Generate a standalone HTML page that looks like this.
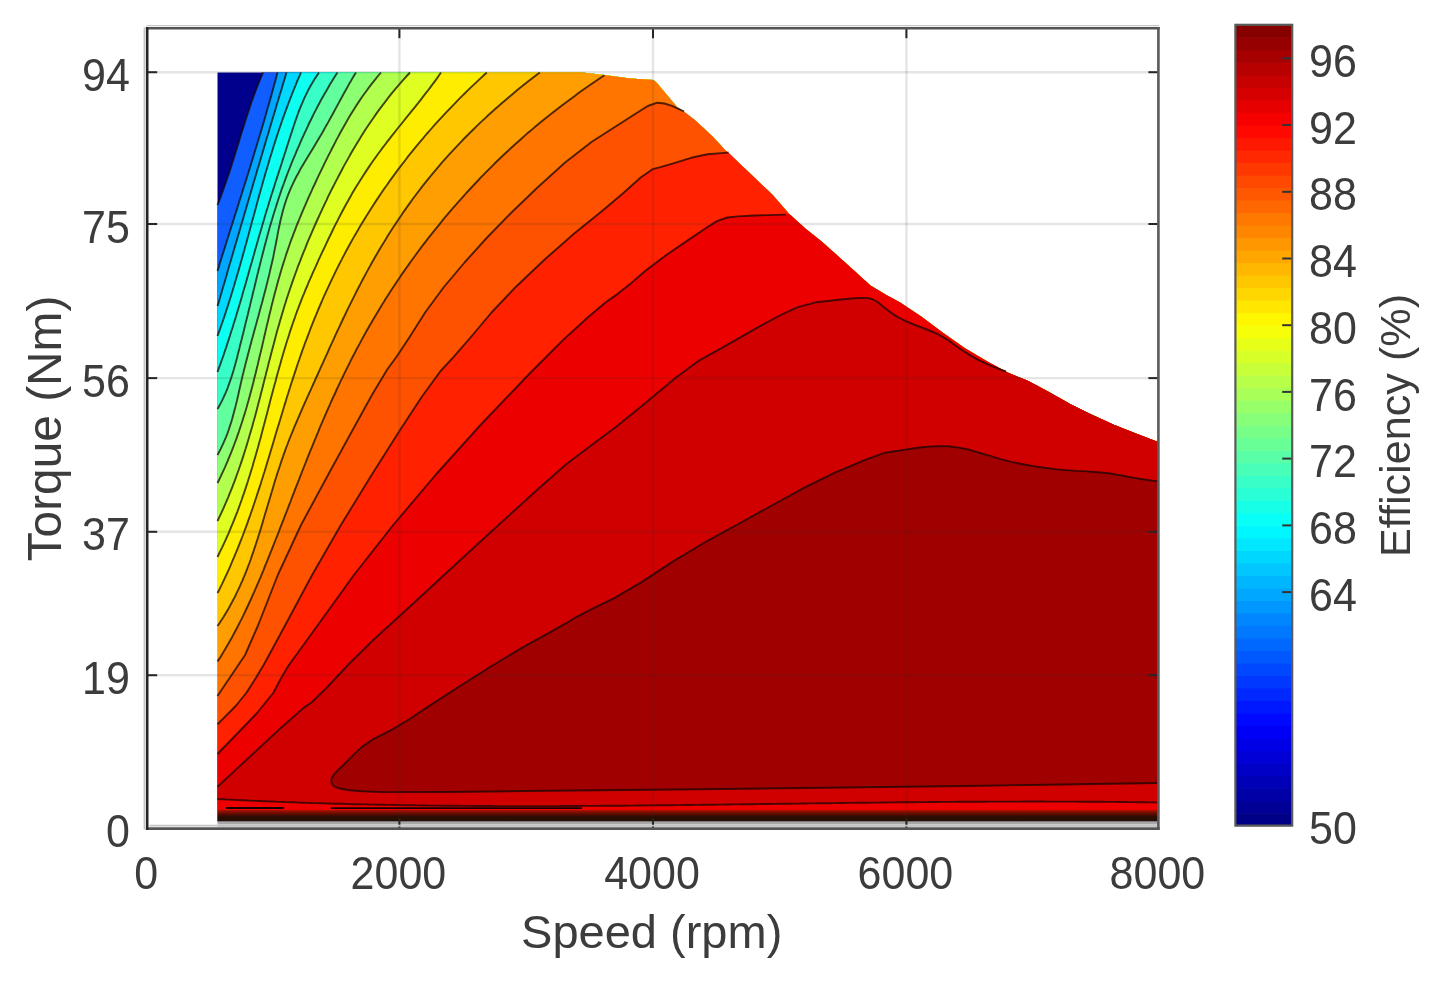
<!DOCTYPE html>
<html><head><meta charset="utf-8"><style>
html,body{margin:0;padding:0;background:#fff;width:1434px;height:982px;overflow:hidden}
svg{display:block;filter:blur(0.55px)}
text{font-family:"Liberation Sans",sans-serif;fill:#3c3c3c}
</style></head><body>
<svg width="1434" height="982" viewBox="0 0 1434 982">
<rect width="1434" height="982" fill="#fff"/>
<g id="data" shape-rendering="geometricPrecision">
<polygon points="217.5,821.5 217.5,72.5 582.0,72.5 604.0,75.0 630.0,78.5 653.0,80.0 656.0,82.0 677.0,107.0 694.7,120.0 712.0,136.0 728.3,153.6 740.0,164.1 756.3,179.6 772.6,195.0 788.9,213.8 805.2,228.4 821.5,241.5 837.8,256.1 854.1,270.8 870.3,285.5 886.6,295.2 900.0,302.5 921.4,316.7 942.8,332.8 964.1,347.7 985.5,360.6 1006.9,372.3 1028.3,381.0 1049.7,392.6 1071.0,404.4 1092.4,415.1 1113.8,424.7 1135.2,433.3 1158.0,442.0 1158.0,821.5" fill="#00008c"/>
<polygon points="263.0,72.5 261.7,75.6 260.4,78.7 259.2,81.7 257.9,84.8 256.7,87.9 255.6,91.0 254.4,94.1 253.3,97.2 252.2,100.2 251.1,103.3 250.1,106.4 249.1,109.5 248.0,112.6 247.0,115.6 246.0,118.7 245.0,121.8 244.1,124.9 243.1,128.0 242.1,131.0 241.2,134.1 240.2,137.2 239.3,140.3 238.4,143.4 237.4,146.5 236.5,149.5 235.5,152.6 234.6,155.7 233.6,158.8 232.6,161.9 231.7,164.9 230.7,168.0 229.7,171.1 228.7,174.2 227.6,177.3 226.6,180.3 225.5,183.4 224.4,186.5 223.3,189.6 222.2,192.7 221.1,195.8 219.9,198.8 218.7,201.9 217.5,205.0 217.5,810.5 217.5,810.5 1158.0,810.5 1158.0,442.0 1135.2,433.3 1113.8,424.7 1092.4,415.1 1071.0,404.4 1049.7,392.6 1028.3,381.0 1006.9,372.3 985.5,360.6 964.1,347.7 942.8,332.8 921.4,316.7 900.0,302.5 886.6,295.2 870.3,285.5 854.1,270.8 837.8,256.1 821.5,241.5 805.2,228.4 788.9,213.8 772.6,195.0 756.3,179.6 740.0,164.1 728.3,153.6 712.0,136.0 694.7,120.0 677.0,107.0 656.0,82.0 653.0,80.0 630.0,78.5 604.0,75.0 582.0,72.5" fill="#105eff"/>
<polygon points="277.5,72.5 276.7,75.6 275.9,78.6 275.1,81.7 274.2,84.7 273.4,87.8 272.6,90.8 271.7,93.9 270.9,96.9 270.0,100.0 269.2,103.0 268.3,106.1 267.4,109.1 266.5,112.2 265.7,115.3 264.8,118.3 263.9,121.4 263.0,124.4 262.1,127.5 261.2,130.5 260.3,133.6 259.4,136.6 258.4,139.7 257.5,142.7 256.6,145.8 255.7,148.8 254.7,151.9 253.8,155.0 252.9,158.0 251.9,161.1 251.0,164.1 250.1,167.2 249.1,170.2 248.2,173.3 247.2,176.3 246.3,179.4 245.3,182.4 244.3,185.5 243.4,188.5 242.4,191.6 241.5,194.7 240.5,197.7 239.5,200.8 238.6,203.8 237.6,206.9 236.7,209.9 235.7,213.0 234.7,216.0 233.8,219.1 232.8,222.1 231.8,225.2 230.9,228.2 229.9,231.3 228.9,234.4 228.0,237.4 227.0,240.5 226.1,243.5 225.1,246.6 224.2,249.6 223.2,252.7 222.2,255.7 221.3,258.8 220.3,261.8 219.4,264.9 218.5,267.9 217.5,271.0 217.5,810.5 217.5,810.5 1158.0,810.5 1158.0,442.0 1135.2,433.3 1113.8,424.7 1092.4,415.1 1071.0,404.4 1049.7,392.6 1028.3,381.0 1006.9,372.3 985.5,360.6 964.1,347.7 942.8,332.8 921.4,316.7 900.0,302.5 886.6,295.2 870.3,285.5 854.1,270.8 837.8,256.1 821.5,241.5 805.2,228.4 788.9,213.8 772.6,195.0 756.3,179.6 740.0,164.1 728.3,153.6 712.0,136.0 694.7,120.0 677.0,107.0 656.0,82.0 653.0,80.0 630.0,78.5 604.0,75.0 582.0,72.5" fill="#00a6ff"/>
<polygon points="286.5,72.5 285.6,75.6 284.7,78.6 283.7,81.7 282.8,84.8 281.9,87.9 281.0,90.9 280.0,94.0 279.1,97.1 278.2,100.2 277.2,103.2 276.3,106.3 275.4,109.4 274.5,112.4 273.6,115.5 272.6,118.6 271.7,121.7 270.8,124.7 269.9,127.8 269.0,130.9 268.1,133.9 267.1,137.0 266.2,140.1 265.3,143.2 264.4,146.2 263.5,149.3 262.6,152.4 261.7,155.5 260.8,158.5 259.9,161.6 259.0,164.7 258.0,167.7 257.1,170.8 256.2,173.9 255.3,177.0 254.4,180.0 253.5,183.1 252.6,186.2 251.7,189.2 250.8,192.3 249.9,195.4 249.0,198.5 248.1,201.5 247.2,204.6 246.3,207.7 245.4,210.8 244.5,213.8 243.6,216.9 242.7,220.0 241.8,223.0 240.9,226.1 240.0,229.2 239.1,232.3 238.2,235.3 237.3,238.4 236.4,241.5 235.5,244.6 234.6,247.6 233.7,250.7 232.8,253.8 231.9,256.8 231.0,259.9 230.1,263.0 229.2,266.1 228.3,269.1 227.4,272.2 226.6,275.3 225.7,278.3 224.8,281.4 223.9,284.5 223.0,287.6 222.1,290.6 221.2,293.7 220.3,296.8 219.4,299.9 218.5,302.9 217.5,306.0 217.5,810.5 217.5,810.5 1158.0,810.5 1158.0,442.0 1135.2,433.3 1113.8,424.7 1092.4,415.1 1071.0,404.4 1049.7,392.6 1028.3,381.0 1006.9,372.3 985.5,360.6 964.1,347.7 942.8,332.8 921.4,316.7 900.0,302.5 886.6,295.2 870.3,285.5 854.1,270.8 837.8,256.1 821.5,241.5 805.2,228.4 788.9,213.8 772.6,195.0 756.3,179.6 740.0,164.1 728.3,153.6 712.0,136.0 694.7,120.0 677.0,107.0 656.0,82.0 653.0,80.0 630.0,78.5 604.0,75.0 582.0,72.5" fill="#00d9ff"/>
<polygon points="301.0,72.5 299.7,75.6 298.3,78.6 297.0,81.7 295.8,84.8 294.5,87.8 293.3,90.9 292.1,93.9 290.9,97.0 289.7,100.1 288.5,103.1 287.4,106.2 286.2,109.3 285.1,112.3 284.0,115.4 282.9,118.5 281.8,121.5 280.8,124.6 279.7,127.7 278.7,130.7 277.7,133.8 276.7,136.8 275.7,139.9 274.7,143.0 273.7,146.0 272.8,149.1 271.8,152.2 270.9,155.2 269.9,158.3 269.0,161.4 268.1,164.4 267.2,167.5 266.3,170.5 265.4,173.6 264.5,176.7 263.6,179.7 262.8,182.8 261.9,185.9 261.0,188.9 260.2,192.0 259.3,195.1 258.5,198.1 257.6,201.2 256.8,204.2 256.0,207.3 255.1,210.4 254.3,213.4 253.5,216.5 252.6,219.6 251.8,222.6 251.0,225.7 250.1,228.8 249.3,231.8 248.5,234.9 247.6,238.0 246.8,241.0 246.0,244.1 245.1,247.1 244.3,250.2 243.4,253.3 242.6,256.3 241.7,259.4 240.8,262.5 240.0,265.5 239.1,268.6 238.2,271.7 237.3,274.7 236.4,277.8 235.5,280.8 234.6,283.9 233.7,287.0 232.8,290.0 231.8,293.1 230.9,296.2 229.9,299.2 229.0,302.3 228.0,305.4 227.0,308.4 226.0,311.5 225.0,314.6 224.0,317.6 222.9,320.7 221.9,323.7 220.8,326.8 219.7,329.9 218.6,332.9 217.5,336.0 217.5,810.5 217.5,810.5 1158.0,810.5 1158.0,442.0 1135.2,433.3 1113.8,424.7 1092.4,415.1 1071.0,404.4 1049.7,392.6 1028.3,381.0 1006.9,372.3 985.5,360.6 964.1,347.7 942.8,332.8 921.4,316.7 900.0,302.5 886.6,295.2 870.3,285.5 854.1,270.8 837.8,256.1 821.5,241.5 805.2,228.4 788.9,213.8 772.6,195.0 756.3,179.6 740.0,164.1 728.3,153.6 712.0,136.0 694.7,120.0 677.0,107.0 656.0,82.0 653.0,80.0 630.0,78.5 604.0,75.0 582.0,72.5" fill="#0dfff2"/>
<polygon points="319.0,72.5 316.9,75.6 314.9,78.6 313.0,81.7 311.2,84.7 309.5,87.8 307.9,90.8 306.4,93.9 304.9,96.9 303.5,100.0 302.2,103.1 300.9,106.1 299.7,109.2 298.5,112.2 297.4,115.3 296.3,118.3 295.2,121.4 294.2,124.5 293.2,127.5 292.2,130.6 291.2,133.6 290.2,136.7 289.2,139.7 288.2,142.8 287.3,145.8 286.3,148.9 285.3,152.0 284.3,155.0 283.3,158.1 282.4,161.1 281.4,164.2 280.4,167.2 279.4,170.3 278.4,173.4 277.4,176.4 276.4,179.5 275.4,182.5 274.5,185.6 273.5,188.6 272.5,191.7 271.5,194.7 270.6,197.8 269.6,200.9 268.7,203.9 267.8,207.0 266.8,210.0 265.9,213.1 265.0,216.1 264.1,219.2 263.2,222.2 262.3,225.3 261.4,228.4 260.5,231.4 259.6,234.5 258.7,237.5 257.9,240.6 257.0,243.6 256.1,246.7 255.2,249.8 254.4,252.8 253.5,255.9 252.6,258.9 251.8,262.0 250.9,265.0 250.0,268.1 249.2,271.1 248.3,274.2 247.4,277.3 246.6,280.3 245.7,283.4 244.8,286.4 243.9,289.5 243.0,292.5 242.2,295.6 241.3,298.7 240.4,301.7 239.5,304.8 238.6,307.8 237.6,310.9 236.7,313.9 235.8,317.0 234.9,320.0 233.9,323.1 233.0,326.2 232.0,329.2 231.0,332.3 230.1,335.3 229.1,338.4 228.1,341.4 227.1,344.5 226.1,347.6 225.0,350.6 224.0,353.7 223.0,356.7 221.9,359.8 220.8,362.8 219.7,365.9 218.6,368.9 217.5,372.0 217.5,810.5 217.5,810.5 1158.0,810.5 1158.0,442.0 1135.2,433.3 1113.8,424.7 1092.4,415.1 1071.0,404.4 1049.7,392.6 1028.3,381.0 1006.9,372.3 985.5,360.6 964.1,347.7 942.8,332.8 921.4,316.7 900.0,302.5 886.6,295.2 870.3,285.5 854.1,270.8 837.8,256.1 821.5,241.5 805.2,228.4 788.9,213.8 772.6,195.0 756.3,179.6 740.0,164.1 728.3,153.6 712.0,136.0 694.7,120.0 677.0,107.0 656.0,82.0 653.0,80.0 630.0,78.5 604.0,75.0 582.0,72.5" fill="#38ffc7"/>
<polygon points="337.5,72.5 335.5,75.5 333.6,78.6 331.8,81.6 329.9,84.6 328.1,87.7 326.4,90.7 324.6,93.7 322.9,96.8 321.2,99.8 319.6,102.8 318.0,105.8 316.4,108.9 314.8,111.9 313.3,114.9 311.8,118.0 310.3,121.0 308.8,124.0 307.4,127.1 306.0,130.1 304.6,133.1 303.2,136.2 301.8,139.2 300.5,142.2 299.2,145.3 297.8,148.3 296.5,151.3 295.3,154.4 294.0,157.4 292.7,160.4 291.5,163.4 290.3,166.5 289.1,169.5 287.9,172.5 286.7,175.6 285.6,178.6 284.5,181.6 283.4,184.7 282.3,187.7 281.2,190.7 280.2,193.8 279.2,196.8 278.2,199.8 277.2,202.9 276.2,205.9 275.3,208.9 274.3,212.0 273.4,215.0 272.5,218.0 271.6,221.0 270.7,224.1 269.8,227.1 269.0,230.1 268.1,233.2 267.3,236.2 266.5,239.2 265.7,242.3 264.9,245.3 264.1,248.3 263.3,251.4 262.5,254.4 261.7,257.4 261.0,260.5 260.2,263.5 259.5,266.5 258.7,269.5 258.0,272.6 257.2,275.6 256.5,278.6 255.7,281.7 255.0,284.7 254.3,287.7 253.5,290.8 252.8,293.8 252.1,296.8 251.3,299.9 250.6,302.9 249.9,305.9 249.1,309.0 248.4,312.0 247.7,315.0 246.9,318.1 246.2,321.1 245.4,324.1 244.7,327.1 243.9,330.2 243.2,333.2 242.4,336.2 241.7,339.3 240.9,342.3 240.1,345.3 239.4,348.4 238.6,351.4 237.8,354.4 237.1,357.5 236.3,360.5 235.5,363.5 234.6,366.6 233.8,369.6 232.9,372.6 231.9,375.7 230.9,378.7 229.9,381.7 228.8,384.7 227.7,387.8 226.5,390.8 225.2,393.8 223.8,396.9 222.4,399.9 220.9,402.9 219.2,406.0 217.5,409.0 217.5,810.5 217.5,810.5 1158.0,810.5 1158.0,442.0 1135.2,433.3 1113.8,424.7 1092.4,415.1 1071.0,404.4 1049.7,392.6 1028.3,381.0 1006.9,372.3 985.5,360.6 964.1,347.7 942.8,332.8 921.4,316.7 900.0,302.5 886.6,295.2 870.3,285.5 854.1,270.8 837.8,256.1 821.5,241.5 805.2,228.4 788.9,213.8 772.6,195.0 756.3,179.6 740.0,164.1 728.3,153.6 712.0,136.0 694.7,120.0 677.0,107.0 656.0,82.0 653.0,80.0 630.0,78.5 604.0,75.0 582.0,72.5" fill="#61ff9e"/>
<polygon points="356.0,72.5 354.1,75.5 352.3,78.6 350.6,81.6 348.8,84.6 347.1,87.7 345.4,90.7 343.7,93.8 342.1,96.8 340.4,99.8 338.8,102.9 337.1,105.9 335.5,108.9 333.8,112.0 332.2,115.0 330.5,118.0 328.8,121.1 327.2,124.1 325.4,127.1 323.7,130.2 322.0,133.2 320.2,136.2 318.4,139.3 316.6,142.3 314.7,145.4 312.9,148.4 311.1,151.4 309.2,154.5 307.4,157.5 305.6,160.5 303.8,163.6 302.0,166.6 300.2,169.6 298.6,172.7 296.9,175.7 295.3,178.8 293.8,181.8 292.4,184.8 291.0,187.9 289.7,190.9 288.5,193.9 287.3,197.0 286.2,200.0 285.2,203.0 284.3,206.1 283.4,209.1 282.6,212.1 281.8,215.2 281.0,218.2 280.3,221.2 279.7,224.3 279.0,227.3 278.4,230.4 277.8,233.4 277.3,236.4 276.7,239.5 276.1,242.5 275.5,245.5 274.9,248.6 274.3,251.6 273.7,254.6 273.1,257.7 272.4,260.7 271.7,263.8 271.0,266.8 270.3,269.8 269.6,272.9 268.9,275.9 268.1,278.9 267.4,282.0 266.6,285.0 265.9,288.0 265.1,291.1 264.3,294.1 263.5,297.1 262.7,300.2 261.9,303.2 261.0,306.2 260.2,309.3 259.4,312.3 258.6,315.4 257.7,318.4 256.9,321.4 256.1,324.5 255.2,327.5 254.4,330.5 253.6,333.6 252.8,336.6 251.9,339.6 251.1,342.7 250.3,345.7 249.5,348.8 248.7,351.8 247.9,354.8 247.1,357.9 246.3,360.9 245.5,363.9 244.8,367.0 244.0,370.0 243.3,373.0 242.5,376.1 241.8,379.1 241.1,382.1 240.4,385.2 239.7,388.2 239.0,391.2 238.4,394.3 237.7,397.3 237.0,400.4 236.2,403.4 235.5,406.4 234.7,409.5 233.9,412.5 233.1,415.5 232.3,418.6 231.4,421.6 230.4,424.6 229.4,427.7 228.4,430.7 227.3,433.8 226.1,436.8 224.8,439.8 223.5,442.9 222.1,445.9 220.7,448.9 219.1,452.0 217.5,455.0 217.5,810.5 217.5,810.5 1158.0,810.5 1158.0,442.0 1135.2,433.3 1113.8,424.7 1092.4,415.1 1071.0,404.4 1049.7,392.6 1028.3,381.0 1006.9,372.3 985.5,360.6 964.1,347.7 942.8,332.8 921.4,316.7 900.0,302.5 886.6,295.2 870.3,285.5 854.1,270.8 837.8,256.1 821.5,241.5 805.2,228.4 788.9,213.8 772.6,195.0 756.3,179.6 740.0,164.1 728.3,153.6 712.0,136.0 694.7,120.0 677.0,107.0 656.0,82.0 653.0,80.0 630.0,78.5 604.0,75.0 582.0,72.5" fill="#8cff73"/>
<polygon points="381.0,72.5 378.4,75.5 375.9,78.6 373.5,81.6 371.1,84.7 368.8,87.7 366.6,90.7 364.4,93.8 362.2,96.8 360.1,99.9 358.1,102.9 356.1,105.9 354.2,109.0 352.3,112.0 350.4,115.1 348.6,118.1 346.8,121.2 345.1,124.2 343.4,127.2 341.7,130.3 340.0,133.3 338.4,136.4 336.7,139.4 335.2,142.4 333.6,145.5 332.0,148.5 330.5,151.6 328.9,154.6 327.4,157.6 325.9,160.7 324.4,163.7 322.9,166.8 321.4,169.8 320.0,172.8 318.5,175.9 317.1,178.9 315.7,182.0 314.3,185.0 312.8,188.0 311.5,191.1 310.1,194.1 308.7,197.2 307.4,200.2 306.0,203.3 304.7,206.3 303.4,209.3 302.1,212.4 300.9,215.4 299.6,218.5 298.4,221.5 297.1,224.5 295.9,227.6 294.8,230.6 293.6,233.7 292.5,236.7 291.3,239.7 290.2,242.8 289.2,245.8 288.1,248.9 287.1,251.9 286.0,254.9 285.1,258.0 284.1,261.0 283.1,264.1 282.2,267.1 281.3,270.1 280.4,273.2 279.5,276.2 278.6,279.3 277.8,282.3 276.9,285.4 276.1,288.4 275.3,291.4 274.5,294.5 273.7,297.5 272.9,300.6 272.2,303.6 271.4,306.6 270.7,309.7 269.9,312.7 269.2,315.8 268.5,318.8 267.8,321.8 267.0,324.9 266.3,327.9 265.6,331.0 264.9,334.0 264.2,337.0 263.5,340.1 262.8,343.1 262.1,346.2 261.4,349.2 260.7,352.2 259.9,355.3 259.2,358.3 258.5,361.4 257.8,364.4 257.0,367.5 256.3,370.5 255.6,373.5 254.8,376.6 254.0,379.6 253.3,382.7 252.5,385.7 251.7,388.7 250.9,391.8 250.1,394.8 249.2,397.9 248.4,400.9 247.5,403.9 246.7,407.0 245.8,410.0 244.9,413.1 243.9,416.1 243.0,419.1 242.0,422.2 241.0,425.2 240.0,428.3 239.0,431.3 237.9,434.3 236.9,437.4 235.8,440.4 234.6,443.5 233.5,446.5 232.3,449.6 231.1,452.6 229.9,455.6 228.6,458.7 227.4,461.7 226.0,464.8 224.7,467.8 223.3,470.8 221.9,473.9 220.5,476.9 219.0,480.0 217.5,483.0 217.5,810.5 217.5,810.5 1158.0,810.5 1158.0,442.0 1135.2,433.3 1113.8,424.7 1092.4,415.1 1071.0,404.4 1049.7,392.6 1028.3,381.0 1006.9,372.3 985.5,360.6 964.1,347.7 942.8,332.8 921.4,316.7 900.0,302.5 886.6,295.2 870.3,285.5 854.1,270.8 837.8,256.1 821.5,241.5 805.2,228.4 788.9,213.8 772.6,195.0 756.3,179.6 740.0,164.1 728.3,153.6 712.0,136.0 694.7,120.0 677.0,107.0 656.0,82.0 653.0,80.0 630.0,78.5 604.0,75.0 582.0,72.5" fill="#b3ff4d"/>
<polygon points="410.0,72.5 407.2,75.5 404.4,78.6 401.7,81.6 399.1,84.6 396.5,87.7 394.0,90.7 391.5,93.7 389.1,96.7 386.7,99.8 384.4,102.8 382.1,105.8 379.8,108.9 377.6,111.9 375.5,114.9 373.4,118.0 371.3,121.0 369.2,124.0 367.2,127.0 365.2,130.1 363.3,133.1 361.4,136.1 359.5,139.2 357.6,142.2 355.8,145.2 354.0,148.3 352.2,151.3 350.5,154.3 348.8,157.4 347.1,160.4 345.4,163.4 343.7,166.4 342.1,169.5 340.5,172.5 338.9,175.5 337.3,178.6 335.7,181.6 334.2,184.6 332.6,187.7 331.1,190.7 329.6,193.7 328.1,196.7 326.7,199.8 325.2,202.8 323.8,205.8 322.4,208.9 321.0,211.9 319.6,214.9 318.2,218.0 316.8,221.0 315.5,224.0 314.1,227.1 312.8,230.1 311.5,233.1 310.2,236.1 308.9,239.2 307.6,242.2 306.4,245.2 305.2,248.3 303.9,251.3 302.7,254.3 301.5,257.4 300.4,260.4 299.2,263.4 298.0,266.4 296.9,269.5 295.8,272.5 294.7,275.5 293.6,278.6 292.5,281.6 291.5,284.6 290.4,287.7 289.4,290.7 288.4,293.7 287.4,296.8 286.4,299.8 285.5,302.8 284.5,305.8 283.6,308.9 282.7,311.9 281.8,314.9 280.9,318.0 280.0,321.0 279.2,324.0 278.3,327.1 277.4,330.1 276.6,333.1 275.8,336.1 275.0,339.2 274.2,342.2 273.4,345.2 272.6,348.3 271.8,351.3 271.0,354.3 270.2,357.4 269.4,360.4 268.6,363.4 267.9,366.4 267.1,369.5 266.3,372.5 265.6,375.5 264.8,378.6 264.0,381.6 263.3,384.6 262.5,387.7 261.7,390.7 260.9,393.7 260.2,396.8 259.4,399.8 258.6,402.8 257.8,405.8 257.0,408.9 256.2,411.9 255.4,414.9 254.6,418.0 253.7,421.0 252.9,424.0 252.1,427.1 251.2,430.1 250.3,433.1 249.4,436.1 248.5,439.2 247.6,442.2 246.7,445.2 245.8,448.3 244.8,451.3 243.9,454.3 242.9,457.4 241.9,460.4 240.9,463.4 239.8,466.5 238.8,469.5 237.7,472.5 236.6,475.5 235.5,478.6 234.4,481.6 233.2,484.6 232.1,487.7 230.9,490.7 229.6,493.7 228.4,496.8 227.1,499.8 225.8,502.8 224.5,505.8 223.2,508.9 221.8,511.9 220.4,514.9 218.9,518.0 217.5,521.0 217.5,810.5 217.5,810.5 1158.0,810.5 1158.0,442.0 1135.2,433.3 1113.8,424.7 1092.4,415.1 1071.0,404.4 1049.7,392.6 1028.3,381.0 1006.9,372.3 985.5,360.6 964.1,347.7 942.8,332.8 921.4,316.7 900.0,302.5 886.6,295.2 870.3,285.5 854.1,270.8 837.8,256.1 821.5,241.5 805.2,228.4 788.9,213.8 772.6,195.0 756.3,179.6 740.0,164.1 728.3,153.6 712.0,136.0 694.7,120.0 677.0,107.0 656.0,82.0 653.0,80.0 630.0,78.5 604.0,75.0 582.0,72.5" fill="#deff21"/>
<polygon points="441.0,72.5 438.9,75.5 436.8,78.6 434.6,81.6 432.3,84.6 430.1,87.6 427.8,90.7 425.4,93.7 423.1,96.7 420.7,99.8 418.3,102.8 415.9,105.8 413.5,108.8 411.0,111.9 408.6,114.9 406.1,117.9 403.7,121.0 401.3,124.0 398.8,127.0 396.4,130.0 394.0,133.1 391.6,136.1 389.3,139.1 386.9,142.1 384.6,145.2 382.3,148.2 380.1,151.2 377.8,154.3 375.7,157.3 373.5,160.3 371.4,163.3 369.3,166.4 367.3,169.4 365.3,172.4 363.3,175.5 361.4,178.5 359.5,181.5 357.6,184.5 355.7,187.6 353.9,190.6 352.1,193.6 350.4,196.7 348.7,199.7 347.0,202.7 345.3,205.7 343.7,208.8 342.1,211.8 340.5,214.8 338.9,217.9 337.4,220.9 335.8,223.9 334.3,226.9 332.8,230.0 331.4,233.0 329.9,236.0 328.4,239.0 327.0,242.1 325.6,245.1 324.2,248.1 322.7,251.2 321.3,254.2 319.9,257.2 318.5,260.2 317.1,263.3 315.8,266.3 314.4,269.3 313.0,272.4 311.7,275.4 310.4,278.4 309.0,281.4 307.8,284.5 306.5,287.5 305.2,290.5 304.0,293.6 302.7,296.6 301.5,299.6 300.4,302.6 299.2,305.7 298.1,308.7 296.9,311.7 295.8,314.8 294.8,317.8 293.7,320.8 292.7,323.8 291.6,326.9 290.6,329.9 289.6,332.9 288.7,335.9 287.7,339.0 286.7,342.0 285.8,345.0 284.9,348.1 284.0,351.1 283.1,354.1 282.2,357.1 281.3,360.2 280.5,363.2 279.6,366.2 278.8,369.3 277.9,372.3 277.1,375.3 276.3,378.3 275.5,381.4 274.6,384.4 273.8,387.4 273.0,390.5 272.2,393.5 271.4,396.5 270.6,399.5 269.8,402.6 269.1,405.6 268.3,408.6 267.5,411.7 266.7,414.7 265.9,417.7 265.1,420.7 264.3,423.8 263.5,426.8 262.7,429.8 261.9,432.8 261.1,435.9 260.3,438.9 259.4,441.9 258.6,445.0 257.8,448.0 256.9,451.0 256.1,454.0 255.2,457.1 254.3,460.1 253.4,463.1 252.6,466.2 251.6,469.2 250.7,472.2 249.8,475.2 248.8,478.3 247.9,481.3 246.9,484.3 245.9,487.4 244.9,490.4 243.9,493.4 242.8,496.4 241.8,499.5 240.7,502.5 239.6,505.5 238.5,508.6 237.4,511.6 236.2,514.6 235.0,517.6 233.8,520.7 232.6,523.7 231.3,526.7 230.1,529.7 228.8,532.8 227.4,535.8 226.1,538.8 224.7,541.9 223.3,544.9 221.9,547.9 220.4,550.9 218.9,554.0 217.5,557.0 217.5,810.5 217.5,810.5 1158.0,810.5 1158.0,442.0 1135.2,433.3 1113.8,424.7 1092.4,415.1 1071.0,404.4 1049.7,392.6 1028.3,381.0 1006.9,372.3 985.5,360.6 964.1,347.7 942.8,332.8 921.4,316.7 900.0,302.5 886.6,295.2 870.3,285.5 854.1,270.8 837.8,256.1 821.5,241.5 805.2,228.4 788.9,213.8 772.6,195.0 756.3,179.6 740.0,164.1 728.3,153.6 712.0,136.0 694.7,120.0 677.0,107.0 656.0,82.0 653.0,80.0 630.0,78.5 604.0,75.0 582.0,72.5" fill="#ffed00"/>
<polygon points="486.8,72.5 483.5,75.5 480.2,78.6 477.0,81.6 473.8,84.6 470.6,87.6 467.5,90.7 464.4,93.7 461.4,96.7 458.4,99.7 455.4,102.8 452.5,105.8 449.6,108.8 446.7,111.8 443.9,114.9 441.1,117.9 438.3,120.9 435.5,123.9 432.8,127.0 430.2,130.0 427.5,133.0 424.9,136.0 422.4,139.1 419.8,142.1 417.3,145.1 414.8,148.2 412.4,151.2 409.9,154.2 407.5,157.2 405.2,160.3 402.8,163.3 400.5,166.3 398.2,169.3 396.0,172.4 393.8,175.4 391.6,178.4 389.4,181.4 387.3,184.5 385.1,187.5 383.0,190.5 381.0,193.5 378.9,196.6 376.9,199.6 374.9,202.6 372.9,205.7 371.0,208.7 369.1,211.7 367.2,214.7 365.3,217.8 363.5,220.8 361.6,223.8 359.8,226.8 358.0,229.9 356.3,232.9 354.5,235.9 352.8,238.9 351.1,242.0 349.4,245.0 347.8,248.0 346.1,251.0 344.5,254.1 342.9,257.1 341.4,260.1 339.8,263.1 338.3,266.2 336.8,269.2 335.3,272.2 333.8,275.3 332.3,278.3 330.9,281.3 329.5,284.3 328.1,287.4 326.7,290.4 325.3,293.4 323.9,296.4 322.6,299.5 321.3,302.5 320.0,305.5 318.7,308.5 317.4,311.6 316.2,314.6 314.9,317.6 313.7,320.6 312.5,323.7 311.3,326.7 310.1,329.7 309.0,332.8 307.8,335.8 306.7,338.8 305.5,341.8 304.4,344.9 303.3,347.9 302.2,350.9 301.2,353.9 300.1,357.0 299.1,360.0 298.0,363.0 297.0,366.0 296.0,369.1 295.0,372.1 294.0,375.1 293.0,378.1 292.0,381.2 291.0,384.2 290.1,387.2 289.1,390.2 288.2,393.3 287.2,396.3 286.3,399.3 285.4,402.4 284.4,405.4 283.5,408.4 282.6,411.4 281.7,414.5 280.8,417.5 279.9,420.5 279.0,423.5 278.0,426.6 277.1,429.6 276.2,432.6 275.3,435.6 274.4,438.7 273.5,441.7 272.6,444.7 271.7,447.7 270.8,450.8 269.9,453.8 269.0,456.8 268.1,459.8 267.1,462.9 266.2,465.9 265.3,468.9 264.4,472.0 263.4,475.0 262.5,478.0 261.5,481.0 260.6,484.1 259.6,487.1 258.6,490.1 257.6,493.1 256.6,496.2 255.6,499.2 254.6,502.2 253.6,505.2 252.6,508.3 251.5,511.3 250.5,514.3 249.4,517.3 248.3,520.4 247.3,523.4 246.2,526.4 245.0,529.5 243.9,532.5 242.8,535.5 241.6,538.5 240.4,541.6 239.2,544.6 238.0,547.6 236.8,550.6 235.5,553.7 234.3,556.7 233.0,559.7 231.7,562.7 230.4,565.8 229.1,568.8 227.7,571.8 226.3,574.8 224.9,577.9 223.5,580.9 222.1,583.9 220.6,586.9 219.1,590.0 217.5,593.0 217.5,810.5 217.5,810.5 1158.0,810.5 1158.0,442.0 1135.2,433.3 1113.8,424.7 1092.4,415.1 1071.0,404.4 1049.7,392.6 1028.3,381.0 1006.9,372.3 985.5,360.6 964.1,347.7 942.8,332.8 921.4,316.7 900.0,302.5 886.6,295.2 870.3,285.5 854.1,270.8 837.8,256.1 821.5,241.5 805.2,228.4 788.9,213.8 772.6,195.0 756.3,179.6 740.0,164.1 728.3,153.6 712.0,136.0 694.7,120.0 677.0,107.0 656.0,82.0 653.0,80.0 630.0,78.5 604.0,75.0 582.0,72.5" fill="#ffc700"/>
<polygon points="539.8,72.5 535.8,75.5 531.9,78.5 528.0,81.6 524.2,84.6 520.4,87.6 516.7,90.6 513.0,93.7 509.4,96.7 505.9,99.7 502.3,102.7 498.9,105.8 495.4,108.8 492.1,111.8 488.7,114.8 485.5,117.9 482.2,120.9 479.0,123.9 475.9,126.9 472.8,130.0 469.7,133.0 466.7,136.0 463.7,139.0 460.8,142.1 457.9,145.1 455.1,148.1 452.3,151.1 449.5,154.2 446.8,157.2 444.1,160.2 441.4,163.2 438.8,166.3 436.2,169.3 433.7,172.3 431.2,175.3 428.7,178.4 426.3,181.4 423.9,184.4 421.5,187.4 419.2,190.5 416.9,193.5 414.6,196.5 412.4,199.5 410.2,202.6 408.0,205.6 405.9,208.6 403.7,211.6 401.7,214.7 399.6,217.7 397.6,220.7 395.6,223.7 393.6,226.8 391.6,229.8 389.7,232.8 387.8,235.8 385.9,238.9 384.1,241.9 382.2,244.9 380.4,247.9 378.6,251.0 376.9,254.0 375.1,257.0 373.4,260.0 371.7,263.0 370.0,266.1 368.3,269.1 366.7,272.1 365.1,275.1 363.4,278.2 361.8,281.2 360.3,284.2 358.7,287.2 357.1,290.3 355.6,293.3 354.1,296.3 352.6,299.3 351.1,302.4 349.6,305.4 348.1,308.4 346.6,311.4 345.2,314.5 343.7,317.5 342.3,320.5 340.9,323.5 339.5,326.6 338.0,329.6 336.6,332.6 335.2,335.6 333.9,338.7 332.5,341.7 331.1,344.7 329.7,347.7 328.3,350.8 327.0,353.8 325.6,356.8 324.2,359.8 322.9,362.9 321.5,365.9 320.1,368.9 318.8,371.9 317.4,375.0 316.0,378.0 314.7,381.0 313.3,384.0 311.9,387.1 310.6,390.1 309.2,393.1 307.8,396.1 306.5,399.2 305.1,402.2 303.8,405.2 302.5,408.2 301.1,411.3 299.8,414.3 298.5,417.3 297.2,420.3 295.9,423.4 294.6,426.4 293.4,429.4 292.2,432.4 290.9,435.5 289.7,438.5 288.5,441.5 287.4,444.5 286.2,447.5 285.1,450.6 284.0,453.6 283.0,456.6 281.9,459.6 280.9,462.7 279.9,465.7 278.9,468.7 277.9,471.7 276.9,474.8 276.0,477.8 275.0,480.8 274.1,483.8 273.2,486.9 272.3,489.9 271.4,492.9 270.5,495.9 269.6,499.0 268.7,502.0 267.8,505.0 266.9,508.0 266.0,511.1 265.1,514.1 264.2,517.1 263.3,520.1 262.4,523.2 261.5,526.2 260.6,529.2 259.7,532.2 258.7,535.3 257.8,538.3 256.8,541.3 255.8,544.3 254.8,547.4 253.8,550.4 252.8,553.4 251.7,556.4 250.7,559.5 249.6,562.5 248.4,565.5 247.3,568.5 246.1,571.6 244.9,574.6 243.6,577.6 242.4,580.6 241.0,583.7 239.7,586.7 238.3,589.7 236.8,592.7 235.3,595.8 233.8,598.8 232.2,601.8 230.6,604.8 228.9,607.9 227.1,610.9 225.3,613.9 223.5,616.9 221.5,620.0 219.6,623.0 217.5,626.0 217.5,810.5 217.5,810.5 1158.0,810.5 1158.0,442.0 1135.2,433.3 1113.8,424.7 1092.4,415.1 1071.0,404.4 1049.7,392.6 1028.3,381.0 1006.9,372.3 985.5,360.6 964.1,347.7 942.8,332.8 921.4,316.7 900.0,302.5 886.6,295.2 870.3,285.5 854.1,270.8 837.8,256.1 821.5,241.5 805.2,228.4 788.9,213.8 772.6,195.0 756.3,179.6 740.0,164.1 728.3,153.6 712.0,136.0 694.7,120.0 677.0,107.0 656.0,82.0 653.0,80.0 630.0,78.5 604.0,75.0 582.0,72.5" fill="#ff9e00"/>
<polygon points="604.5,75.2 599.9,78.2 595.5,81.2 591.1,84.3 586.7,87.3 582.4,90.3 578.2,93.3 574.1,96.4 570.0,99.4 565.9,102.4 561.9,105.4 558.0,108.4 554.1,111.5 550.3,114.5 546.5,117.5 542.7,120.5 539.1,123.5 535.4,126.6 531.9,129.6 528.3,132.6 524.8,135.6 521.4,138.7 518.0,141.7 514.6,144.7 511.3,147.7 508.1,150.7 504.8,153.8 501.7,156.8 498.5,159.8 495.4,162.8 492.4,165.8 489.3,168.9 486.3,171.9 483.4,174.9 480.4,177.9 477.6,181.0 474.7,184.0 471.9,187.0 469.1,190.0 466.3,193.0 463.6,196.1 460.9,199.1 458.2,202.1 455.6,205.1 452.9,208.2 450.3,211.2 447.8,214.2 445.2,217.2 442.7,220.2 440.2,223.3 437.8,226.3 435.3,229.3 432.9,232.3 430.5,235.3 428.1,238.4 425.8,241.4 423.5,244.4 421.2,247.4 418.9,250.5 416.7,253.5 414.5,256.5 412.3,259.5 410.1,262.5 408.0,265.6 405.8,268.6 403.7,271.6 401.6,274.6 399.6,277.7 397.5,280.7 395.5,283.7 393.5,286.7 391.5,289.7 389.6,292.8 387.7,295.8 385.7,298.8 383.9,301.8 382.0,304.8 380.1,307.9 378.3,310.9 376.5,313.9 374.7,316.9 372.9,320.0 371.2,323.0 369.4,326.0 367.7,329.0 366.0,332.0 364.3,335.1 362.6,338.1 361.0,341.1 359.4,344.1 357.7,347.1 356.1,350.2 354.6,353.2 353.0,356.2 351.4,359.2 349.9,362.3 348.4,365.3 346.9,368.3 345.4,371.3 343.9,374.3 342.5,377.4 341.0,380.4 339.6,383.4 338.2,386.4 336.7,389.5 335.4,392.5 334.0,395.5 332.6,398.5 331.2,401.5 329.9,404.6 328.5,407.6 327.2,410.6 325.9,413.6 324.6,416.6 323.3,419.7 322.0,422.7 320.7,425.7 319.4,428.7 318.2,431.8 316.9,434.8 315.7,437.8 314.4,440.8 313.2,443.8 312.0,446.9 310.7,449.9 309.5,452.9 308.3,455.9 307.1,458.9 305.9,462.0 304.7,465.0 303.5,468.0 302.3,471.0 301.1,474.1 299.9,477.1 298.8,480.1 297.6,483.1 296.4,486.1 295.2,489.2 294.1,492.2 292.9,495.2 291.7,498.2 290.6,501.3 289.4,504.3 288.2,507.3 287.1,510.3 285.9,513.3 284.7,516.4 283.6,519.4 282.4,522.4 281.2,525.4 280.0,528.4 278.9,531.5 277.7,534.5 276.5,537.5 275.3,540.5 274.1,543.6 272.9,546.6 271.7,549.6 270.5,552.6 269.3,555.6 268.1,558.7 266.9,561.7 265.6,564.7 264.4,567.7 263.2,570.8 261.9,573.8 260.7,576.8 259.4,579.8 258.1,582.8 256.8,585.9 255.5,588.9 254.2,591.9 252.8,594.9 251.5,597.9 250.1,601.0 248.7,604.0 247.3,607.0 245.9,610.0 244.4,613.1 243.0,616.1 241.5,619.1 239.9,622.1 238.4,625.1 236.8,628.2 235.2,631.2 233.6,634.2 232.0,637.2 230.3,640.2 228.6,643.3 226.8,646.3 225.1,649.3 223.3,652.3 221.4,655.4 219.6,658.4 217.5,661.4 217.5,810.5 217.5,810.5 1158.0,810.5 1158.0,442.0 1135.2,433.3 1113.8,424.7 1092.4,415.1 1071.0,404.4 1049.7,392.6 1028.3,381.0 1006.9,372.3 985.5,360.6 964.1,347.7 942.8,332.8 921.4,316.7 900.0,302.5 886.6,295.2 870.3,285.5 854.1,270.8 837.8,256.1 821.5,241.5 805.2,228.4 788.9,213.8 772.6,195.0 756.3,179.6 740.0,164.1 728.3,153.6 712.0,136.0 694.7,120.0 677.0,107.0 656.0,82.0 653.0,80.0 630.0,78.5" fill="#ff7500"/>
<polygon points="684.1,111.5 680.1,109.6 672.0,105.9 664.4,103.5 657.3,102.7 647.8,106.0 635.9,113.5 617.2,125.5 591.8,141.8 565.1,162.5 537.5,187.5 511.5,212.5 487.1,237.5 464.5,262.5 443.5,287.5 425.1,312.5 409.3,337.5 396.7,356.5 387.2,369.5 372.2,394.5 351.8,431.5 328.0,475.0 301.0,525.0 277.8,575.0 258.2,625.0 245.1,655.0 238.3,665.0 230.6,676.5 221.8,689.5 217.5,696.0 217.5,810.5 217.5,810.5 1158.0,810.5 1158.0,442.0 1135.2,433.3 1113.8,424.7 1092.4,415.1 1071.0,404.4 1049.7,392.6 1028.3,381.0 1006.9,372.3 985.5,360.6 964.1,347.7 942.8,332.8 921.4,316.7 900.0,302.5 886.6,295.2 870.3,285.5 854.1,270.8 837.8,256.1 821.5,241.5 805.2,228.4 788.9,213.8 772.6,195.0 756.3,179.6 740.0,164.1 728.3,153.6 712.0,136.0 694.7,120.0" fill="#ff5200"/>
<polygon points="728.6,152.5 721.6,153.1 707.5,154.2 691.1,157.8 672.4,163.6 659.5,167.4 652.5,169.2 640.7,177.5 624.0,192.5 601.8,211.2 573.9,233.8 545.5,258.8 516.5,286.2 491.5,312.5 470.5,337.5 453.4,357.2 440.2,371.5 422.0,396.5 398.6,432.2 371.6,475.0 340.9,525.0 312.1,575.0 285.3,625.0 269.1,655.0 263.6,665.0 256.1,677.5 246.6,692.5 235.7,706.0 223.6,718.2 217.5,724.2 217.5,810.5 217.5,810.5 1158.0,810.5 1158.0,442.0 1135.2,433.3 1113.8,424.7 1092.4,415.1 1071.0,404.4 1049.7,392.6 1028.3,381.0 1006.9,372.3 985.5,360.6 964.1,347.7 942.8,332.8 921.4,316.7 900.0,302.5 886.6,295.2 870.3,285.5 854.1,270.8 837.8,256.1 821.5,241.5 805.2,228.4 788.9,213.8 772.6,195.0 756.3,179.6 740.0,164.1" fill="#ff2100"/>
<polygon points="786.0,214.6 775.5,214.9 754.5,215.5 738.4,216.4 727.2,217.5 717.0,221.1 707.6,227.0 690.7,238.4 666.0,255.3 646.1,270.3 630.8,283.4 617.4,294.1 605.8,302.3 588.0,317.3 564.0,339.1 528.2,375.0 480.5,425.0 435.5,475.0 393.2,525.0 353.9,575.0 317.9,625.0 296.2,655.0 288.9,665.0 281.4,677.5 273.6,692.5 256.6,713.5 230.6,740.5 217.5,754.0 217.5,810.5 217.5,810.5 1158.0,810.5 1158.0,442.0 1135.2,433.3 1113.8,424.7 1092.4,415.1 1071.0,404.4 1049.7,392.6 1028.3,381.0 1006.9,372.3 985.5,360.6 964.1,347.7 942.8,332.8 921.4,316.7 900.0,302.5 886.6,295.2 870.3,285.5 854.1,270.8 837.8,256.1 821.5,241.5 805.2,228.4 788.9,213.8" fill="#ed0000"/>
<polygon points="1006.0,371.5 1000.9,369.6 990.6,365.7 980.1,360.9 969.5,354.9 958.8,348.0 948.1,340.0 937.4,333.9 926.8,329.5 916.0,325.3 905.4,321.0 896.5,316.4 889.5,311.5 883.3,306.8 877.9,302.3 873.2,299.5 869.1,298.3 862.8,297.9 854.3,298.3 838.8,299.7 816.4,302.2 797.1,307.3 780.8,315.0 760.0,326.2 734.6,340.7 714.4,352.1 699.3,360.3 675.1,378.3 641.8,406.1 615.2,427.5 595.0,442.5 578.8,454.7 566.2,464.2 537.8,489.2 493.3,529.7 457.6,562.5 430.6,587.5 402.8,613.0 374.3,639.0 348.9,664.0 326.5,688.0 311.5,702.5 303.9,707.6 279.4,729.3 238.1,767.6 217.5,786.8 217.5,799.0 217.5,799.0 220.5,799.2 223.5,799.3 226.5,799.5 229.5,799.6 232.5,799.8 235.6,799.9 238.6,800.1 241.6,800.2 244.6,800.3 247.6,800.5 250.6,800.6 253.6,800.8 256.6,800.9 259.6,801.0 262.7,801.2 265.7,801.3 268.7,801.4 271.7,801.5 274.7,801.6 277.7,801.8 280.7,801.9 283.7,802.0 286.7,802.1 289.8,802.2 292.8,802.3 295.8,802.4 298.8,802.6 301.8,802.7 304.8,802.8 307.8,802.9 310.8,803.0 313.8,803.1 316.9,803.1 319.9,803.2 322.9,803.3 325.9,803.4 328.9,803.5 331.9,803.6 334.9,803.7 337.9,803.8 341.0,803.8 344.0,803.9 347.0,804.0 350.0,804.1 353.0,804.2 356.0,804.2 359.0,804.3 362.0,804.4 365.1,804.4 368.1,804.5 371.1,804.6 374.1,804.6 377.1,804.7 380.1,804.8 383.1,804.8 386.1,804.9 389.2,804.9 392.2,805.0 395.2,805.0 398.2,805.1 401.2,805.1 404.2,805.2 407.2,805.2 410.2,805.3 413.3,805.3 416.3,805.4 419.3,805.4 422.3,805.5 425.3,805.5 428.3,805.5 431.3,805.6 434.4,805.6 437.4,805.6 440.4,805.7 443.4,805.7 446.4,805.7 449.4,805.8 452.4,805.8 455.5,805.8 458.5,805.8 461.5,805.9 464.5,805.9 467.5,805.9 470.5,805.9 473.5,806.0 476.6,806.0 479.6,806.0 482.6,806.0 485.6,806.0 488.6,806.0 491.6,806.0 494.6,806.1 497.7,806.1 500.7,806.1 503.7,806.1 506.7,806.1 509.7,806.1 512.7,806.1 515.7,806.1 518.8,806.1 521.8,806.1 524.8,806.1 527.8,806.1 530.8,806.1 533.8,806.1 536.8,806.1 539.9,806.1 542.9,806.1 545.9,806.1 548.9,806.1 551.9,806.1 554.9,806.1 557.9,806.1 561.0,806.0 564.0,806.0 567.0,806.0 570.0,806.0 573.0,806.0 576.0,806.0 579.1,806.0 582.1,805.9 585.1,805.9 588.1,805.9 591.1,805.9 594.1,805.9 597.1,805.9 600.2,805.8 603.2,805.8 606.2,805.8 609.2,805.8 612.2,805.8 615.2,805.7 618.3,805.7 621.3,805.7 624.3,805.7 627.3,805.6 630.3,805.6 633.3,805.6 636.4,805.5 639.4,805.5 642.4,805.5 645.4,805.5 648.4,805.4 651.4,805.4 654.4,805.4 657.5,805.3 660.5,805.3 663.5,805.3 666.5,805.2 669.5,805.2 672.5,805.2 675.6,805.1 678.6,805.1 681.6,805.1 684.6,805.0 687.6,805.0 690.6,805.0 693.7,804.9 696.7,804.9 699.7,804.9 702.7,804.8 705.7,804.8 708.7,804.8 711.7,804.7 714.8,804.7 717.8,804.6 720.8,804.6 723.8,804.6 726.8,804.5 729.8,804.5 732.9,804.4 735.9,804.4 738.9,804.4 741.9,804.3 744.9,804.3 747.9,804.2 751.0,804.2 754.0,804.2 757.0,804.1 760.0,804.1 763.0,804.0 766.0,804.0 769.1,804.0 772.1,803.9 775.1,803.9 778.1,803.8 781.1,803.8 784.1,803.8 787.1,803.7 790.2,803.7 793.2,803.6 796.2,803.6 799.2,803.6 802.2,803.5 805.2,803.5 808.3,803.4 811.3,803.4 814.3,803.4 817.3,803.3 820.3,803.3 823.3,803.2 826.4,803.2 829.4,803.2 832.4,803.1 835.4,803.1 838.4,803.0 841.4,803.0 844.5,803.0 847.5,802.9 850.5,802.9 853.5,802.9 856.5,802.8 859.5,802.8 862.5,802.7 865.6,802.7 868.6,802.7 871.6,802.6 874.6,802.6 877.6,802.6 880.6,802.5 883.7,802.5 886.7,802.5 889.7,802.4 892.7,802.4 895.7,802.4 898.7,802.3 901.8,802.3 904.8,802.3 907.8,802.2 910.8,802.2 913.8,802.2 916.8,802.2 919.8,802.1 922.9,802.1 925.9,802.1 928.9,802.0 931.9,802.0 934.9,802.0 937.9,802.0 941.0,801.9 944.0,801.9 947.0,801.9 950.0,801.9 953.0,801.9 956.0,801.8 959.1,801.8 962.1,801.8 965.1,801.8 968.1,801.8 971.1,801.7 974.1,801.7 977.1,801.7 980.2,801.7 983.2,801.7 986.2,801.7 989.2,801.6 992.2,801.6 995.2,801.6 998.2,801.6 1001.3,801.6 1004.3,801.6 1007.3,801.6 1010.3,801.6 1013.3,801.6 1016.3,801.6 1019.4,801.6 1022.4,801.5 1025.4,801.5 1028.4,801.5 1031.4,801.5 1034.4,801.5 1037.4,801.5 1040.5,801.5 1043.5,801.5 1046.5,801.6 1049.5,801.6 1052.5,801.6 1055.5,801.6 1058.5,801.6 1061.6,801.6 1064.6,801.6 1067.6,801.6 1070.6,801.6 1073.6,801.6 1076.6,801.6 1079.6,801.7 1082.7,801.7 1085.7,801.7 1088.7,801.7 1091.7,801.7 1094.7,801.8 1097.7,801.8 1100.7,801.8 1103.8,801.8 1106.8,801.9 1109.8,801.9 1112.8,801.9 1115.8,801.9 1118.8,802.0 1121.8,802.0 1124.9,802.0 1127.9,802.1 1130.9,802.1 1133.9,802.1 1136.9,802.2 1139.9,802.2 1142.9,802.3 1145.9,802.3 1149.0,802.4 1152.0,802.4 1155.0,802.5 1158.0,802.5 1158.0,442.0 1135.2,433.3 1113.8,424.7 1092.4,415.1 1071.0,404.4 1049.7,392.6 1028.3,381.0 1006.9,372.3" fill="#d10000"/>
<polygon points="1158.0,481.4 1152.3,480.6 1140.9,479.0 1129.9,477.1 1119.1,475.0 1108.4,473.3 1097.8,472.2 1087.1,471.4 1076.3,470.9 1065.7,470.1 1055.0,469.1 1044.4,467.7 1033.6,466.1 1022.9,464.2 1012.2,462.1 1001.5,459.4 990.9,456.2 980.1,453.0 969.5,449.8 958.8,447.6 948.1,446.3 937.4,446.1 926.8,446.8 916.0,448.0 905.4,449.6 895.0,451.2 885.0,452.7 865.2,459.8 835.5,472.3 804.4,487.6 771.8,505.5 739.2,523.5 706.6,541.3 674.0,560.9 641.5,582.1 614.2,598.1 592.1,608.8 575.8,617.3 565.3,623.7 547.7,633.6 523.1,647.1 493.2,665.0 458.1,687.3 430.0,705.4 408.9,719.5 390.2,730.6 373.8,738.8 360.9,747.6 351.5,756.9 343.1,765.2 335.7,772.4 331.8,777.8 331.2,781.2 332.0,784.1 334.1,786.3 339.2,788.3 347.4,790.0 362.1,791.3 383.1,792.1 445.3,792.0 548.4,790.8 675.0,789.5 825.0,787.8 964.5,786.0 1093.5,784.0 1158.0,783.0" fill="#a10000"/>
</g>
<g id="clines" fill="none" stroke="#140500" stroke-width="1.9" stroke-opacity="0.74" stroke-linejoin="round">
<polyline points="263.0,72.5 261.7,75.6 260.4,78.7 259.2,81.7 257.9,84.8 256.7,87.9 255.6,91.0 254.4,94.1 253.3,97.2 252.2,100.2 251.1,103.3 250.1,106.4 249.1,109.5 248.0,112.6 247.0,115.6 246.0,118.7 245.0,121.8 244.1,124.9 243.1,128.0 242.1,131.0 241.2,134.1 240.2,137.2 239.3,140.3 238.4,143.4 237.4,146.5 236.5,149.5 235.5,152.6 234.6,155.7 233.6,158.8 232.6,161.9 231.7,164.9 230.7,168.0 229.7,171.1 228.7,174.2 227.6,177.3 226.6,180.3 225.5,183.4 224.4,186.5 223.3,189.6 222.2,192.7 221.1,195.8 219.9,198.8 218.7,201.9 217.5,205.0"/>
<polyline points="277.5,72.5 276.7,75.6 275.9,78.6 275.1,81.7 274.2,84.7 273.4,87.8 272.6,90.8 271.7,93.9 270.9,96.9 270.0,100.0 269.2,103.0 268.3,106.1 267.4,109.1 266.5,112.2 265.7,115.3 264.8,118.3 263.9,121.4 263.0,124.4 262.1,127.5 261.2,130.5 260.3,133.6 259.4,136.6 258.4,139.7 257.5,142.7 256.6,145.8 255.7,148.8 254.7,151.9 253.8,155.0 252.9,158.0 251.9,161.1 251.0,164.1 250.1,167.2 249.1,170.2 248.2,173.3 247.2,176.3 246.3,179.4 245.3,182.4 244.3,185.5 243.4,188.5 242.4,191.6 241.5,194.7 240.5,197.7 239.5,200.8 238.6,203.8 237.6,206.9 236.7,209.9 235.7,213.0 234.7,216.0 233.8,219.1 232.8,222.1 231.8,225.2 230.9,228.2 229.9,231.3 228.9,234.4 228.0,237.4 227.0,240.5 226.1,243.5 225.1,246.6 224.2,249.6 223.2,252.7 222.2,255.7 221.3,258.8 220.3,261.8 219.4,264.9 218.5,267.9 217.5,271.0"/>
<polyline points="286.5,72.5 285.6,75.6 284.7,78.6 283.7,81.7 282.8,84.8 281.9,87.9 281.0,90.9 280.0,94.0 279.1,97.1 278.2,100.2 277.2,103.2 276.3,106.3 275.4,109.4 274.5,112.4 273.6,115.5 272.6,118.6 271.7,121.7 270.8,124.7 269.9,127.8 269.0,130.9 268.1,133.9 267.1,137.0 266.2,140.1 265.3,143.2 264.4,146.2 263.5,149.3 262.6,152.4 261.7,155.5 260.8,158.5 259.9,161.6 259.0,164.7 258.0,167.7 257.1,170.8 256.2,173.9 255.3,177.0 254.4,180.0 253.5,183.1 252.6,186.2 251.7,189.2 250.8,192.3 249.9,195.4 249.0,198.5 248.1,201.5 247.2,204.6 246.3,207.7 245.4,210.8 244.5,213.8 243.6,216.9 242.7,220.0 241.8,223.0 240.9,226.1 240.0,229.2 239.1,232.3 238.2,235.3 237.3,238.4 236.4,241.5 235.5,244.6 234.6,247.6 233.7,250.7 232.8,253.8 231.9,256.8 231.0,259.9 230.1,263.0 229.2,266.1 228.3,269.1 227.4,272.2 226.6,275.3 225.7,278.3 224.8,281.4 223.9,284.5 223.0,287.6 222.1,290.6 221.2,293.7 220.3,296.8 219.4,299.9 218.5,302.9 217.5,306.0"/>
<polyline points="301.0,72.5 299.7,75.6 298.3,78.6 297.0,81.7 295.8,84.8 294.5,87.8 293.3,90.9 292.1,93.9 290.9,97.0 289.7,100.1 288.5,103.1 287.4,106.2 286.2,109.3 285.1,112.3 284.0,115.4 282.9,118.5 281.8,121.5 280.8,124.6 279.7,127.7 278.7,130.7 277.7,133.8 276.7,136.8 275.7,139.9 274.7,143.0 273.7,146.0 272.8,149.1 271.8,152.2 270.9,155.2 269.9,158.3 269.0,161.4 268.1,164.4 267.2,167.5 266.3,170.5 265.4,173.6 264.5,176.7 263.6,179.7 262.8,182.8 261.9,185.9 261.0,188.9 260.2,192.0 259.3,195.1 258.5,198.1 257.6,201.2 256.8,204.2 256.0,207.3 255.1,210.4 254.3,213.4 253.5,216.5 252.6,219.6 251.8,222.6 251.0,225.7 250.1,228.8 249.3,231.8 248.5,234.9 247.6,238.0 246.8,241.0 246.0,244.1 245.1,247.1 244.3,250.2 243.4,253.3 242.6,256.3 241.7,259.4 240.8,262.5 240.0,265.5 239.1,268.6 238.2,271.7 237.3,274.7 236.4,277.8 235.5,280.8 234.6,283.9 233.7,287.0 232.8,290.0 231.8,293.1 230.9,296.2 229.9,299.2 229.0,302.3 228.0,305.4 227.0,308.4 226.0,311.5 225.0,314.6 224.0,317.6 222.9,320.7 221.9,323.7 220.8,326.8 219.7,329.9 218.6,332.9 217.5,336.0"/>
<polyline points="319.0,72.5 316.9,75.6 314.9,78.6 313.0,81.7 311.2,84.7 309.5,87.8 307.9,90.8 306.4,93.9 304.9,96.9 303.5,100.0 302.2,103.1 300.9,106.1 299.7,109.2 298.5,112.2 297.4,115.3 296.3,118.3 295.2,121.4 294.2,124.5 293.2,127.5 292.2,130.6 291.2,133.6 290.2,136.7 289.2,139.7 288.2,142.8 287.3,145.8 286.3,148.9 285.3,152.0 284.3,155.0 283.3,158.1 282.4,161.1 281.4,164.2 280.4,167.2 279.4,170.3 278.4,173.4 277.4,176.4 276.4,179.5 275.4,182.5 274.5,185.6 273.5,188.6 272.5,191.7 271.5,194.7 270.6,197.8 269.6,200.9 268.7,203.9 267.8,207.0 266.8,210.0 265.9,213.1 265.0,216.1 264.1,219.2 263.2,222.2 262.3,225.3 261.4,228.4 260.5,231.4 259.6,234.5 258.7,237.5 257.9,240.6 257.0,243.6 256.1,246.7 255.2,249.8 254.4,252.8 253.5,255.9 252.6,258.9 251.8,262.0 250.9,265.0 250.0,268.1 249.2,271.1 248.3,274.2 247.4,277.3 246.6,280.3 245.7,283.4 244.8,286.4 243.9,289.5 243.0,292.5 242.2,295.6 241.3,298.7 240.4,301.7 239.5,304.8 238.6,307.8 237.6,310.9 236.7,313.9 235.8,317.0 234.9,320.0 233.9,323.1 233.0,326.2 232.0,329.2 231.0,332.3 230.1,335.3 229.1,338.4 228.1,341.4 227.1,344.5 226.1,347.6 225.0,350.6 224.0,353.7 223.0,356.7 221.9,359.8 220.8,362.8 219.7,365.9 218.6,368.9 217.5,372.0"/>
<polyline points="337.5,72.5 335.5,75.5 333.6,78.6 331.8,81.6 329.9,84.6 328.1,87.7 326.4,90.7 324.6,93.7 322.9,96.8 321.2,99.8 319.6,102.8 318.0,105.8 316.4,108.9 314.8,111.9 313.3,114.9 311.8,118.0 310.3,121.0 308.8,124.0 307.4,127.1 306.0,130.1 304.6,133.1 303.2,136.2 301.8,139.2 300.5,142.2 299.2,145.3 297.8,148.3 296.5,151.3 295.3,154.4 294.0,157.4 292.7,160.4 291.5,163.4 290.3,166.5 289.1,169.5 287.9,172.5 286.7,175.6 285.6,178.6 284.5,181.6 283.4,184.7 282.3,187.7 281.2,190.7 280.2,193.8 279.2,196.8 278.2,199.8 277.2,202.9 276.2,205.9 275.3,208.9 274.3,212.0 273.4,215.0 272.5,218.0 271.6,221.0 270.7,224.1 269.8,227.1 269.0,230.1 268.1,233.2 267.3,236.2 266.5,239.2 265.7,242.3 264.9,245.3 264.1,248.3 263.3,251.4 262.5,254.4 261.7,257.4 261.0,260.5 260.2,263.5 259.5,266.5 258.7,269.5 258.0,272.6 257.2,275.6 256.5,278.6 255.7,281.7 255.0,284.7 254.3,287.7 253.5,290.8 252.8,293.8 252.1,296.8 251.3,299.9 250.6,302.9 249.9,305.9 249.1,309.0 248.4,312.0 247.7,315.0 246.9,318.1 246.2,321.1 245.4,324.1 244.7,327.1 243.9,330.2 243.2,333.2 242.4,336.2 241.7,339.3 240.9,342.3 240.1,345.3 239.4,348.4 238.6,351.4 237.8,354.4 237.1,357.5 236.3,360.5 235.5,363.5 234.6,366.6 233.8,369.6 232.9,372.6 231.9,375.7 230.9,378.7 229.9,381.7 228.8,384.7 227.7,387.8 226.5,390.8 225.2,393.8 223.8,396.9 222.4,399.9 220.9,402.9 219.2,406.0 217.5,409.0"/>
<polyline points="356.0,72.5 354.1,75.5 352.3,78.6 350.6,81.6 348.8,84.6 347.1,87.7 345.4,90.7 343.7,93.8 342.1,96.8 340.4,99.8 338.8,102.9 337.1,105.9 335.5,108.9 333.8,112.0 332.2,115.0 330.5,118.0 328.8,121.1 327.2,124.1 325.4,127.1 323.7,130.2 322.0,133.2 320.2,136.2 318.4,139.3 316.6,142.3 314.7,145.4 312.9,148.4 311.1,151.4 309.2,154.5 307.4,157.5 305.6,160.5 303.8,163.6 302.0,166.6 300.2,169.6 298.6,172.7 296.9,175.7 295.3,178.8 293.8,181.8 292.4,184.8 291.0,187.9 289.7,190.9 288.5,193.9 287.3,197.0 286.2,200.0 285.2,203.0 284.3,206.1 283.4,209.1 282.6,212.1 281.8,215.2 281.0,218.2 280.3,221.2 279.7,224.3 279.0,227.3 278.4,230.4 277.8,233.4 277.3,236.4 276.7,239.5 276.1,242.5 275.5,245.5 274.9,248.6 274.3,251.6 273.7,254.6 273.1,257.7 272.4,260.7 271.7,263.8 271.0,266.8 270.3,269.8 269.6,272.9 268.9,275.9 268.1,278.9 267.4,282.0 266.6,285.0 265.9,288.0 265.1,291.1 264.3,294.1 263.5,297.1 262.7,300.2 261.9,303.2 261.0,306.2 260.2,309.3 259.4,312.3 258.6,315.4 257.7,318.4 256.9,321.4 256.1,324.5 255.2,327.5 254.4,330.5 253.6,333.6 252.8,336.6 251.9,339.6 251.1,342.7 250.3,345.7 249.5,348.8 248.7,351.8 247.9,354.8 247.1,357.9 246.3,360.9 245.5,363.9 244.8,367.0 244.0,370.0 243.3,373.0 242.5,376.1 241.8,379.1 241.1,382.1 240.4,385.2 239.7,388.2 239.0,391.2 238.4,394.3 237.7,397.3 237.0,400.4 236.2,403.4 235.5,406.4 234.7,409.5 233.9,412.5 233.1,415.5 232.3,418.6 231.4,421.6 230.4,424.6 229.4,427.7 228.4,430.7 227.3,433.8 226.1,436.8 224.8,439.8 223.5,442.9 222.1,445.9 220.7,448.9 219.1,452.0 217.5,455.0"/>
<polyline points="381.0,72.5 378.4,75.5 375.9,78.6 373.5,81.6 371.1,84.7 368.8,87.7 366.6,90.7 364.4,93.8 362.2,96.8 360.1,99.9 358.1,102.9 356.1,105.9 354.2,109.0 352.3,112.0 350.4,115.1 348.6,118.1 346.8,121.2 345.1,124.2 343.4,127.2 341.7,130.3 340.0,133.3 338.4,136.4 336.7,139.4 335.2,142.4 333.6,145.5 332.0,148.5 330.5,151.6 328.9,154.6 327.4,157.6 325.9,160.7 324.4,163.7 322.9,166.8 321.4,169.8 320.0,172.8 318.5,175.9 317.1,178.9 315.7,182.0 314.3,185.0 312.8,188.0 311.5,191.1 310.1,194.1 308.7,197.2 307.4,200.2 306.0,203.3 304.7,206.3 303.4,209.3 302.1,212.4 300.9,215.4 299.6,218.5 298.4,221.5 297.1,224.5 295.9,227.6 294.8,230.6 293.6,233.7 292.5,236.7 291.3,239.7 290.2,242.8 289.2,245.8 288.1,248.9 287.1,251.9 286.0,254.9 285.1,258.0 284.1,261.0 283.1,264.1 282.2,267.1 281.3,270.1 280.4,273.2 279.5,276.2 278.6,279.3 277.8,282.3 276.9,285.4 276.1,288.4 275.3,291.4 274.5,294.5 273.7,297.5 272.9,300.6 272.2,303.6 271.4,306.6 270.7,309.7 269.9,312.7 269.2,315.8 268.5,318.8 267.8,321.8 267.0,324.9 266.3,327.9 265.6,331.0 264.9,334.0 264.2,337.0 263.5,340.1 262.8,343.1 262.1,346.2 261.4,349.2 260.7,352.2 259.9,355.3 259.2,358.3 258.5,361.4 257.8,364.4 257.0,367.5 256.3,370.5 255.6,373.5 254.8,376.6 254.0,379.6 253.3,382.7 252.5,385.7 251.7,388.7 250.9,391.8 250.1,394.8 249.2,397.9 248.4,400.9 247.5,403.9 246.7,407.0 245.8,410.0 244.9,413.1 243.9,416.1 243.0,419.1 242.0,422.2 241.0,425.2 240.0,428.3 239.0,431.3 237.9,434.3 236.9,437.4 235.8,440.4 234.6,443.5 233.5,446.5 232.3,449.6 231.1,452.6 229.9,455.6 228.6,458.7 227.4,461.7 226.0,464.8 224.7,467.8 223.3,470.8 221.9,473.9 220.5,476.9 219.0,480.0 217.5,483.0"/>
<polyline points="410.0,72.5 407.2,75.5 404.4,78.6 401.7,81.6 399.1,84.6 396.5,87.7 394.0,90.7 391.5,93.7 389.1,96.7 386.7,99.8 384.4,102.8 382.1,105.8 379.8,108.9 377.6,111.9 375.5,114.9 373.4,118.0 371.3,121.0 369.2,124.0 367.2,127.0 365.2,130.1 363.3,133.1 361.4,136.1 359.5,139.2 357.6,142.2 355.8,145.2 354.0,148.3 352.2,151.3 350.5,154.3 348.8,157.4 347.1,160.4 345.4,163.4 343.7,166.4 342.1,169.5 340.5,172.5 338.9,175.5 337.3,178.6 335.7,181.6 334.2,184.6 332.6,187.7 331.1,190.7 329.6,193.7 328.1,196.7 326.7,199.8 325.2,202.8 323.8,205.8 322.4,208.9 321.0,211.9 319.6,214.9 318.2,218.0 316.8,221.0 315.5,224.0 314.1,227.1 312.8,230.1 311.5,233.1 310.2,236.1 308.9,239.2 307.6,242.2 306.4,245.2 305.2,248.3 303.9,251.3 302.7,254.3 301.5,257.4 300.4,260.4 299.2,263.4 298.0,266.4 296.9,269.5 295.8,272.5 294.7,275.5 293.6,278.6 292.5,281.6 291.5,284.6 290.4,287.7 289.4,290.7 288.4,293.7 287.4,296.8 286.4,299.8 285.5,302.8 284.5,305.8 283.6,308.9 282.7,311.9 281.8,314.9 280.9,318.0 280.0,321.0 279.2,324.0 278.3,327.1 277.4,330.1 276.6,333.1 275.8,336.1 275.0,339.2 274.2,342.2 273.4,345.2 272.6,348.3 271.8,351.3 271.0,354.3 270.2,357.4 269.4,360.4 268.6,363.4 267.9,366.4 267.1,369.5 266.3,372.5 265.6,375.5 264.8,378.6 264.0,381.6 263.3,384.6 262.5,387.7 261.7,390.7 260.9,393.7 260.2,396.8 259.4,399.8 258.6,402.8 257.8,405.8 257.0,408.9 256.2,411.9 255.4,414.9 254.6,418.0 253.7,421.0 252.9,424.0 252.1,427.1 251.2,430.1 250.3,433.1 249.4,436.1 248.5,439.2 247.6,442.2 246.7,445.2 245.8,448.3 244.8,451.3 243.9,454.3 242.9,457.4 241.9,460.4 240.9,463.4 239.8,466.5 238.8,469.5 237.7,472.5 236.6,475.5 235.5,478.6 234.4,481.6 233.2,484.6 232.1,487.7 230.9,490.7 229.6,493.7 228.4,496.8 227.1,499.8 225.8,502.8 224.5,505.8 223.2,508.9 221.8,511.9 220.4,514.9 218.9,518.0 217.5,521.0"/>
<polyline points="441.0,72.5 438.9,75.5 436.8,78.6 434.6,81.6 432.3,84.6 430.1,87.6 427.8,90.7 425.4,93.7 423.1,96.7 420.7,99.8 418.3,102.8 415.9,105.8 413.5,108.8 411.0,111.9 408.6,114.9 406.1,117.9 403.7,121.0 401.3,124.0 398.8,127.0 396.4,130.0 394.0,133.1 391.6,136.1 389.3,139.1 386.9,142.1 384.6,145.2 382.3,148.2 380.1,151.2 377.8,154.3 375.7,157.3 373.5,160.3 371.4,163.3 369.3,166.4 367.3,169.4 365.3,172.4 363.3,175.5 361.4,178.5 359.5,181.5 357.6,184.5 355.7,187.6 353.9,190.6 352.1,193.6 350.4,196.7 348.7,199.7 347.0,202.7 345.3,205.7 343.7,208.8 342.1,211.8 340.5,214.8 338.9,217.9 337.4,220.9 335.8,223.9 334.3,226.9 332.8,230.0 331.4,233.0 329.9,236.0 328.4,239.0 327.0,242.1 325.6,245.1 324.2,248.1 322.7,251.2 321.3,254.2 319.9,257.2 318.5,260.2 317.1,263.3 315.8,266.3 314.4,269.3 313.0,272.4 311.7,275.4 310.4,278.4 309.0,281.4 307.8,284.5 306.5,287.5 305.2,290.5 304.0,293.6 302.7,296.6 301.5,299.6 300.4,302.6 299.2,305.7 298.1,308.7 296.9,311.7 295.8,314.8 294.8,317.8 293.7,320.8 292.7,323.8 291.6,326.9 290.6,329.9 289.6,332.9 288.7,335.9 287.7,339.0 286.7,342.0 285.8,345.0 284.9,348.1 284.0,351.1 283.1,354.1 282.2,357.1 281.3,360.2 280.5,363.2 279.6,366.2 278.8,369.3 277.9,372.3 277.1,375.3 276.3,378.3 275.5,381.4 274.6,384.4 273.8,387.4 273.0,390.5 272.2,393.5 271.4,396.5 270.6,399.5 269.8,402.6 269.1,405.6 268.3,408.6 267.5,411.7 266.7,414.7 265.9,417.7 265.1,420.7 264.3,423.8 263.5,426.8 262.7,429.8 261.9,432.8 261.1,435.9 260.3,438.9 259.4,441.9 258.6,445.0 257.8,448.0 256.9,451.0 256.1,454.0 255.2,457.1 254.3,460.1 253.4,463.1 252.6,466.2 251.6,469.2 250.7,472.2 249.8,475.2 248.8,478.3 247.9,481.3 246.9,484.3 245.9,487.4 244.9,490.4 243.9,493.4 242.8,496.4 241.8,499.5 240.7,502.5 239.6,505.5 238.5,508.6 237.4,511.6 236.2,514.6 235.0,517.6 233.8,520.7 232.6,523.7 231.3,526.7 230.1,529.7 228.8,532.8 227.4,535.8 226.1,538.8 224.7,541.9 223.3,544.9 221.9,547.9 220.4,550.9 218.9,554.0 217.5,557.0"/>
<polyline points="486.8,72.5 483.5,75.5 480.2,78.6 477.0,81.6 473.8,84.6 470.6,87.6 467.5,90.7 464.4,93.7 461.4,96.7 458.4,99.7 455.4,102.8 452.5,105.8 449.6,108.8 446.7,111.8 443.9,114.9 441.1,117.9 438.3,120.9 435.5,123.9 432.8,127.0 430.2,130.0 427.5,133.0 424.9,136.0 422.4,139.1 419.8,142.1 417.3,145.1 414.8,148.2 412.4,151.2 409.9,154.2 407.5,157.2 405.2,160.3 402.8,163.3 400.5,166.3 398.2,169.3 396.0,172.4 393.8,175.4 391.6,178.4 389.4,181.4 387.3,184.5 385.1,187.5 383.0,190.5 381.0,193.5 378.9,196.6 376.9,199.6 374.9,202.6 372.9,205.7 371.0,208.7 369.1,211.7 367.2,214.7 365.3,217.8 363.5,220.8 361.6,223.8 359.8,226.8 358.0,229.9 356.3,232.9 354.5,235.9 352.8,238.9 351.1,242.0 349.4,245.0 347.8,248.0 346.1,251.0 344.5,254.1 342.9,257.1 341.4,260.1 339.8,263.1 338.3,266.2 336.8,269.2 335.3,272.2 333.8,275.3 332.3,278.3 330.9,281.3 329.5,284.3 328.1,287.4 326.7,290.4 325.3,293.4 323.9,296.4 322.6,299.5 321.3,302.5 320.0,305.5 318.7,308.5 317.4,311.6 316.2,314.6 314.9,317.6 313.7,320.6 312.5,323.7 311.3,326.7 310.1,329.7 309.0,332.8 307.8,335.8 306.7,338.8 305.5,341.8 304.4,344.9 303.3,347.9 302.2,350.9 301.2,353.9 300.1,357.0 299.1,360.0 298.0,363.0 297.0,366.0 296.0,369.1 295.0,372.1 294.0,375.1 293.0,378.1 292.0,381.2 291.0,384.2 290.1,387.2 289.1,390.2 288.2,393.3 287.2,396.3 286.3,399.3 285.4,402.4 284.4,405.4 283.5,408.4 282.6,411.4 281.7,414.5 280.8,417.5 279.9,420.5 279.0,423.5 278.0,426.6 277.1,429.6 276.2,432.6 275.3,435.6 274.4,438.7 273.5,441.7 272.6,444.7 271.7,447.7 270.8,450.8 269.9,453.8 269.0,456.8 268.1,459.8 267.1,462.9 266.2,465.9 265.3,468.9 264.4,472.0 263.4,475.0 262.5,478.0 261.5,481.0 260.6,484.1 259.6,487.1 258.6,490.1 257.6,493.1 256.6,496.2 255.6,499.2 254.6,502.2 253.6,505.2 252.6,508.3 251.5,511.3 250.5,514.3 249.4,517.3 248.3,520.4 247.3,523.4 246.2,526.4 245.0,529.5 243.9,532.5 242.8,535.5 241.6,538.5 240.4,541.6 239.2,544.6 238.0,547.6 236.8,550.6 235.5,553.7 234.3,556.7 233.0,559.7 231.7,562.7 230.4,565.8 229.1,568.8 227.7,571.8 226.3,574.8 224.9,577.9 223.5,580.9 222.1,583.9 220.6,586.9 219.1,590.0 217.5,593.0"/>
<polyline points="539.8,72.5 535.8,75.5 531.9,78.5 528.0,81.6 524.2,84.6 520.4,87.6 516.7,90.6 513.0,93.7 509.4,96.7 505.9,99.7 502.3,102.7 498.9,105.8 495.4,108.8 492.1,111.8 488.7,114.8 485.5,117.9 482.2,120.9 479.0,123.9 475.9,126.9 472.8,130.0 469.7,133.0 466.7,136.0 463.7,139.0 460.8,142.1 457.9,145.1 455.1,148.1 452.3,151.1 449.5,154.2 446.8,157.2 444.1,160.2 441.4,163.2 438.8,166.3 436.2,169.3 433.7,172.3 431.2,175.3 428.7,178.4 426.3,181.4 423.9,184.4 421.5,187.4 419.2,190.5 416.9,193.5 414.6,196.5 412.4,199.5 410.2,202.6 408.0,205.6 405.9,208.6 403.7,211.6 401.7,214.7 399.6,217.7 397.6,220.7 395.6,223.7 393.6,226.8 391.6,229.8 389.7,232.8 387.8,235.8 385.9,238.9 384.1,241.9 382.2,244.9 380.4,247.9 378.6,251.0 376.9,254.0 375.1,257.0 373.4,260.0 371.7,263.0 370.0,266.1 368.3,269.1 366.7,272.1 365.1,275.1 363.4,278.2 361.8,281.2 360.3,284.2 358.7,287.2 357.1,290.3 355.6,293.3 354.1,296.3 352.6,299.3 351.1,302.4 349.6,305.4 348.1,308.4 346.6,311.4 345.2,314.5 343.7,317.5 342.3,320.5 340.9,323.5 339.5,326.6 338.0,329.6 336.6,332.6 335.2,335.6 333.9,338.7 332.5,341.7 331.1,344.7 329.7,347.7 328.3,350.8 327.0,353.8 325.6,356.8 324.2,359.8 322.9,362.9 321.5,365.9 320.1,368.9 318.8,371.9 317.4,375.0 316.0,378.0 314.7,381.0 313.3,384.0 311.9,387.1 310.6,390.1 309.2,393.1 307.8,396.1 306.5,399.2 305.1,402.2 303.8,405.2 302.5,408.2 301.1,411.3 299.8,414.3 298.5,417.3 297.2,420.3 295.9,423.4 294.6,426.4 293.4,429.4 292.2,432.4 290.9,435.5 289.7,438.5 288.5,441.5 287.4,444.5 286.2,447.5 285.1,450.6 284.0,453.6 283.0,456.6 281.9,459.6 280.9,462.7 279.9,465.7 278.9,468.7 277.9,471.7 276.9,474.8 276.0,477.8 275.0,480.8 274.1,483.8 273.2,486.9 272.3,489.9 271.4,492.9 270.5,495.9 269.6,499.0 268.7,502.0 267.8,505.0 266.9,508.0 266.0,511.1 265.1,514.1 264.2,517.1 263.3,520.1 262.4,523.2 261.5,526.2 260.6,529.2 259.7,532.2 258.7,535.3 257.8,538.3 256.8,541.3 255.8,544.3 254.8,547.4 253.8,550.4 252.8,553.4 251.7,556.4 250.7,559.5 249.6,562.5 248.4,565.5 247.3,568.5 246.1,571.6 244.9,574.6 243.6,577.6 242.4,580.6 241.0,583.7 239.7,586.7 238.3,589.7 236.8,592.7 235.3,595.8 233.8,598.8 232.2,601.8 230.6,604.8 228.9,607.9 227.1,610.9 225.3,613.9 223.5,616.9 221.5,620.0 219.6,623.0 217.5,626.0"/>
<polyline points="604.5,75.2 599.9,78.2 595.5,81.2 591.1,84.3 586.7,87.3 582.4,90.3 578.2,93.3 574.1,96.4 570.0,99.4 565.9,102.4 561.9,105.4 558.0,108.4 554.1,111.5 550.3,114.5 546.5,117.5 542.7,120.5 539.1,123.5 535.4,126.6 531.9,129.6 528.3,132.6 524.8,135.6 521.4,138.7 518.0,141.7 514.6,144.7 511.3,147.7 508.1,150.7 504.8,153.8 501.7,156.8 498.5,159.8 495.4,162.8 492.4,165.8 489.3,168.9 486.3,171.9 483.4,174.9 480.4,177.9 477.6,181.0 474.7,184.0 471.9,187.0 469.1,190.0 466.3,193.0 463.6,196.1 460.9,199.1 458.2,202.1 455.6,205.1 452.9,208.2 450.3,211.2 447.8,214.2 445.2,217.2 442.7,220.2 440.2,223.3 437.8,226.3 435.3,229.3 432.9,232.3 430.5,235.3 428.1,238.4 425.8,241.4 423.5,244.4 421.2,247.4 418.9,250.5 416.7,253.5 414.5,256.5 412.3,259.5 410.1,262.5 408.0,265.6 405.8,268.6 403.7,271.6 401.6,274.6 399.6,277.7 397.5,280.7 395.5,283.7 393.5,286.7 391.5,289.7 389.6,292.8 387.7,295.8 385.7,298.8 383.9,301.8 382.0,304.8 380.1,307.9 378.3,310.9 376.5,313.9 374.7,316.9 372.9,320.0 371.2,323.0 369.4,326.0 367.7,329.0 366.0,332.0 364.3,335.1 362.6,338.1 361.0,341.1 359.4,344.1 357.7,347.1 356.1,350.2 354.6,353.2 353.0,356.2 351.4,359.2 349.9,362.3 348.4,365.3 346.9,368.3 345.4,371.3 343.9,374.3 342.5,377.4 341.0,380.4 339.6,383.4 338.2,386.4 336.7,389.5 335.4,392.5 334.0,395.5 332.6,398.5 331.2,401.5 329.9,404.6 328.5,407.6 327.2,410.6 325.9,413.6 324.6,416.6 323.3,419.7 322.0,422.7 320.7,425.7 319.4,428.7 318.2,431.8 316.9,434.8 315.7,437.8 314.4,440.8 313.2,443.8 312.0,446.9 310.7,449.9 309.5,452.9 308.3,455.9 307.1,458.9 305.9,462.0 304.7,465.0 303.5,468.0 302.3,471.0 301.1,474.1 299.9,477.1 298.8,480.1 297.6,483.1 296.4,486.1 295.2,489.2 294.1,492.2 292.9,495.2 291.7,498.2 290.6,501.3 289.4,504.3 288.2,507.3 287.1,510.3 285.9,513.3 284.7,516.4 283.6,519.4 282.4,522.4 281.2,525.4 280.0,528.4 278.9,531.5 277.7,534.5 276.5,537.5 275.3,540.5 274.1,543.6 272.9,546.6 271.7,549.6 270.5,552.6 269.3,555.6 268.1,558.7 266.9,561.7 265.6,564.7 264.4,567.7 263.2,570.8 261.9,573.8 260.7,576.8 259.4,579.8 258.1,582.8 256.8,585.9 255.5,588.9 254.2,591.9 252.8,594.9 251.5,597.9 250.1,601.0 248.7,604.0 247.3,607.0 245.9,610.0 244.4,613.1 243.0,616.1 241.5,619.1 239.9,622.1 238.4,625.1 236.8,628.2 235.2,631.2 233.6,634.2 232.0,637.2 230.3,640.2 228.6,643.3 226.8,646.3 225.1,649.3 223.3,652.3 221.4,655.4 219.6,658.4 217.5,661.4"/>
<polyline points="684.1,111.5 680.1,109.6 672.0,105.9 664.4,103.5 657.3,102.7 647.8,106.0 635.9,113.5 617.2,125.5 591.8,141.8 565.1,162.5 537.5,187.5 511.5,212.5 487.1,237.5 464.5,262.5 443.5,287.5 425.1,312.5 409.3,337.5 396.7,356.5 387.2,369.5 372.2,394.5 351.8,431.5 328.0,475.0 301.0,525.0 277.8,575.0 258.2,625.0 245.1,655.0 238.3,665.0 230.6,676.5 221.8,689.5 217.5,696.0"/>
<polyline points="728.6,152.5 721.6,153.1 707.5,154.2 691.1,157.8 672.4,163.6 659.5,167.4 652.5,169.2 640.7,177.5 624.0,192.5 601.8,211.2 573.9,233.8 545.5,258.8 516.5,286.2 491.5,312.5 470.5,337.5 453.4,357.2 440.2,371.5 422.0,396.5 398.6,432.2 371.6,475.0 340.9,525.0 312.1,575.0 285.3,625.0 269.1,655.0 263.6,665.0 256.1,677.5 246.6,692.5 235.7,706.0 223.6,718.2 217.5,724.2"/>
<polyline points="786.0,214.6 775.5,214.9 754.5,215.5 738.4,216.4 727.2,217.5 717.0,221.1 707.6,227.0 690.7,238.4 666.0,255.3 646.1,270.3 630.8,283.4 617.4,294.1 605.8,302.3 588.0,317.3 564.0,339.1 528.2,375.0 480.5,425.0 435.5,475.0 393.2,525.0 353.9,575.0 317.9,625.0 296.2,655.0 288.9,665.0 281.4,677.5 273.6,692.5 256.6,713.5 230.6,740.5 217.5,754.0"/>
<polyline points="1006.0,371.5 1000.9,369.6 990.6,365.7 980.1,360.9 969.5,354.9 958.8,348.0 948.1,340.0 937.4,333.9 926.8,329.5 916.0,325.3 905.4,321.0 896.5,316.4 889.5,311.5 883.3,306.8 877.9,302.3 873.2,299.5 869.1,298.3 862.8,297.9 854.3,298.3 838.8,299.7 816.4,302.2 797.1,307.3 780.8,315.0 760.0,326.2 734.6,340.7 714.4,352.1 699.3,360.3 675.1,378.3 641.8,406.1 615.2,427.5 595.0,442.5 578.8,454.7 566.2,464.2 537.8,489.2 493.3,529.7 457.6,562.5 430.6,587.5 402.8,613.0 374.3,639.0 348.9,664.0 326.5,688.0 311.5,702.5 303.9,707.6 279.4,729.3 238.1,767.6 217.5,786.8"/>
<polyline points="217.5,799.0 220.5,799.2 223.5,799.3 226.5,799.5 229.5,799.6 232.5,799.8 235.6,799.9 238.6,800.1 241.6,800.2 244.6,800.3 247.6,800.5 250.6,800.6 253.6,800.8 256.6,800.9 259.6,801.0 262.7,801.2 265.7,801.3 268.7,801.4 271.7,801.5 274.7,801.6 277.7,801.8 280.7,801.9 283.7,802.0 286.7,802.1 289.8,802.2 292.8,802.3 295.8,802.4 298.8,802.6 301.8,802.7 304.8,802.8 307.8,802.9 310.8,803.0 313.8,803.1 316.9,803.1 319.9,803.2 322.9,803.3 325.9,803.4 328.9,803.5 331.9,803.6 334.9,803.7 337.9,803.8 341.0,803.8 344.0,803.9 347.0,804.0 350.0,804.1 353.0,804.2 356.0,804.2 359.0,804.3 362.0,804.4 365.1,804.4 368.1,804.5 371.1,804.6 374.1,804.6 377.1,804.7 380.1,804.8 383.1,804.8 386.1,804.9 389.2,804.9 392.2,805.0 395.2,805.0 398.2,805.1 401.2,805.1 404.2,805.2 407.2,805.2 410.2,805.3 413.3,805.3 416.3,805.4 419.3,805.4 422.3,805.5 425.3,805.5 428.3,805.5 431.3,805.6 434.4,805.6 437.4,805.6 440.4,805.7 443.4,805.7 446.4,805.7 449.4,805.8 452.4,805.8 455.5,805.8 458.5,805.8 461.5,805.9 464.5,805.9 467.5,805.9 470.5,805.9 473.5,806.0 476.6,806.0 479.6,806.0 482.6,806.0 485.6,806.0 488.6,806.0 491.6,806.0 494.6,806.1 497.7,806.1 500.7,806.1 503.7,806.1 506.7,806.1 509.7,806.1 512.7,806.1 515.7,806.1 518.8,806.1 521.8,806.1 524.8,806.1 527.8,806.1 530.8,806.1 533.8,806.1 536.8,806.1 539.9,806.1 542.9,806.1 545.9,806.1 548.9,806.1 551.9,806.1 554.9,806.1 557.9,806.1 561.0,806.0 564.0,806.0 567.0,806.0 570.0,806.0 573.0,806.0 576.0,806.0 579.1,806.0 582.1,805.9 585.1,805.9 588.1,805.9 591.1,805.9 594.1,805.9 597.1,805.9 600.2,805.8 603.2,805.8 606.2,805.8 609.2,805.8 612.2,805.8 615.2,805.7 618.3,805.7 621.3,805.7 624.3,805.7 627.3,805.6 630.3,805.6 633.3,805.6 636.4,805.5 639.4,805.5 642.4,805.5 645.4,805.5 648.4,805.4 651.4,805.4 654.4,805.4 657.5,805.3 660.5,805.3 663.5,805.3 666.5,805.2 669.5,805.2 672.5,805.2 675.6,805.1 678.6,805.1 681.6,805.1 684.6,805.0 687.6,805.0 690.6,805.0 693.7,804.9 696.7,804.9 699.7,804.9 702.7,804.8 705.7,804.8 708.7,804.8 711.7,804.7 714.8,804.7 717.8,804.6 720.8,804.6 723.8,804.6 726.8,804.5 729.8,804.5 732.9,804.4 735.9,804.4 738.9,804.4 741.9,804.3 744.9,804.3 747.9,804.2 751.0,804.2 754.0,804.2 757.0,804.1 760.0,804.1 763.0,804.0 766.0,804.0 769.1,804.0 772.1,803.9 775.1,803.9 778.1,803.8 781.1,803.8 784.1,803.8 787.1,803.7 790.2,803.7 793.2,803.6 796.2,803.6 799.2,803.6 802.2,803.5 805.2,803.5 808.3,803.4 811.3,803.4 814.3,803.4 817.3,803.3 820.3,803.3 823.3,803.2 826.4,803.2 829.4,803.2 832.4,803.1 835.4,803.1 838.4,803.0 841.4,803.0 844.5,803.0 847.5,802.9 850.5,802.9 853.5,802.9 856.5,802.8 859.5,802.8 862.5,802.7 865.6,802.7 868.6,802.7 871.6,802.6 874.6,802.6 877.6,802.6 880.6,802.5 883.7,802.5 886.7,802.5 889.7,802.4 892.7,802.4 895.7,802.4 898.7,802.3 901.8,802.3 904.8,802.3 907.8,802.2 910.8,802.2 913.8,802.2 916.8,802.2 919.8,802.1 922.9,802.1 925.9,802.1 928.9,802.0 931.9,802.0 934.9,802.0 937.9,802.0 941.0,801.9 944.0,801.9 947.0,801.9 950.0,801.9 953.0,801.9 956.0,801.8 959.1,801.8 962.1,801.8 965.1,801.8 968.1,801.8 971.1,801.7 974.1,801.7 977.1,801.7 980.2,801.7 983.2,801.7 986.2,801.7 989.2,801.6 992.2,801.6 995.2,801.6 998.2,801.6 1001.3,801.6 1004.3,801.6 1007.3,801.6 1010.3,801.6 1013.3,801.6 1016.3,801.6 1019.4,801.6 1022.4,801.5 1025.4,801.5 1028.4,801.5 1031.4,801.5 1034.4,801.5 1037.4,801.5 1040.5,801.5 1043.5,801.5 1046.5,801.6 1049.5,801.6 1052.5,801.6 1055.5,801.6 1058.5,801.6 1061.6,801.6 1064.6,801.6 1067.6,801.6 1070.6,801.6 1073.6,801.6 1076.6,801.6 1079.6,801.7 1082.7,801.7 1085.7,801.7 1088.7,801.7 1091.7,801.7 1094.7,801.8 1097.7,801.8 1100.7,801.8 1103.8,801.8 1106.8,801.9 1109.8,801.9 1112.8,801.9 1115.8,801.9 1118.8,802.0 1121.8,802.0 1124.9,802.0 1127.9,802.1 1130.9,802.1 1133.9,802.1 1136.9,802.2 1139.9,802.2 1142.9,802.3 1145.9,802.3 1149.0,802.4 1152.0,802.4 1155.0,802.5 1158.0,802.5"/>
<polyline points="1158.0,481.4 1152.3,480.6 1140.9,479.0 1129.9,477.1 1119.1,475.0 1108.4,473.3 1097.8,472.2 1087.1,471.4 1076.3,470.9 1065.7,470.1 1055.0,469.1 1044.4,467.7 1033.6,466.1 1022.9,464.2 1012.2,462.1 1001.5,459.4 990.9,456.2 980.1,453.0 969.5,449.8 958.8,447.6 948.1,446.3 937.4,446.1 926.8,446.8 916.0,448.0 905.4,449.6 895.0,451.2 885.0,452.7 865.2,459.8 835.5,472.3 804.4,487.6 771.8,505.5 739.2,523.5 706.6,541.3 674.0,560.9 641.5,582.1 614.2,598.1 592.1,608.8 575.8,617.3 565.3,623.7 547.7,633.6 523.1,647.1 493.2,665.0 458.1,687.3 430.0,705.4 408.9,719.5 390.2,730.6 373.8,738.8 360.9,747.6 351.5,756.9 343.1,765.2 335.7,772.4 331.8,777.8 331.2,781.2 332.0,784.1 334.1,786.3 339.2,788.3 347.4,790.0 362.1,791.3 383.1,792.1 445.3,792.0 548.4,790.8 675.0,789.5 825.0,787.8 964.5,786.0 1093.5,784.0 1158.0,783.0"/>
</g>
<defs><linearGradient id="bg1" x1="0" y1="0" x2="0" y2="1"><stop offset="0" stop-color="#b01000"/><stop offset="0.35" stop-color="#5a0c00"/><stop offset="0.6" stop-color="#2a0c00"/><stop offset="1" stop-color="#241000"/></linearGradient></defs>
<rect x="217.5" y="810" width="940.5" height="11.5" fill="url(#bg1)"/>
<g stroke="#1a0000" stroke-width="1.8"><line x1="331" y1="808.2" x2="582" y2="808.2"/><line x1="226" y1="808" x2="284" y2="808"/></g>
<rect x="217.5" y="821.5" width="940.5" height="3" fill="#a8a8a6"/><rect x="217.5" y="824.5" width="940.5" height="2.6" fill="#cacac6"/>
<g stroke="#262626" stroke-opacity="0.12" stroke-width="2.4"><line x1="399.4" y1="28.2" x2="399.4" y2="828.6"/><line x1="653.0" y1="28.2" x2="653.0" y2="828.6"/><line x1="906.4" y1="28.2" x2="906.4" y2="828.6"/><line x1="147.2" y1="675.2" x2="1158.4" y2="675.2"/><line x1="147.2" y1="531.8" x2="1158.4" y2="531.8"/><line x1="147.2" y1="378.1" x2="1158.4" y2="378.1"/><line x1="147.2" y1="224.0" x2="1158.4" y2="224.0"/><line x1="147.2" y1="72.2" x2="1158.4" y2="72.2"/></g>
<g stroke="#262626" stroke-width="2"><line x1="147.2" y1="675.2" x2="157.2" y2="675.2"/><line x1="1148.4" y1="675.2" x2="1158.4" y2="675.2"/><line x1="147.2" y1="531.8" x2="157.2" y2="531.8"/><line x1="1148.4" y1="531.8" x2="1158.4" y2="531.8"/><line x1="147.2" y1="378.1" x2="157.2" y2="378.1"/><line x1="1148.4" y1="378.1" x2="1158.4" y2="378.1"/><line x1="147.2" y1="224.0" x2="157.2" y2="224.0"/><line x1="1148.4" y1="224.0" x2="1158.4" y2="224.0"/><line x1="147.2" y1="72.2" x2="157.2" y2="72.2"/><line x1="1148.4" y1="72.2" x2="1158.4" y2="72.2"/><line x1="399.4" y1="828.6" x2="399.4" y2="818.6"/><line x1="399.4" y1="28.2" x2="399.4" y2="38.2"/><line x1="653.0" y1="828.6" x2="653.0" y2="818.6"/><line x1="653.0" y1="28.2" x2="653.0" y2="38.2"/><line x1="906.4" y1="828.6" x2="906.4" y2="818.6"/><line x1="906.4" y1="28.2" x2="906.4" y2="38.2"/></g>
<g fill="none" stroke-width="2.6" stroke-linecap="square">
<line x1="147.2" y1="25.599999999999998" x2="1158.4" y2="25.599999999999998" stroke="#c8c8c8" stroke-width="1.4"/>
<line x1="150.2" y1="825.6" x2="1158.4" y2="825.6" stroke="#c4c4c4" stroke-width="1.6"/>
<line x1="144.39999999999998" y1="28.2" x2="144.39999999999998" y2="828.6" stroke="#c4c4c4" stroke-width="1.6"/>
<line x1="147.2" y1="28.2" x2="1158.4" y2="28.2" stroke="#555"/>
<line x1="1158.4" y1="28.2" x2="1158.4" y2="828.6" stroke="#5a5a5a"/>
<line x1="147.2" y1="828.6" x2="1158.4" y2="828.6" stroke="#555"/>
<line x1="147.2" y1="28.2" x2="147.2" y2="828.6" stroke="#262626"/>
</g>
<g font-size="43"><text transform="translate(129.8,847.1) scale(1,1.08)" text-anchor="end">0</text><text transform="translate(129.8,693.8) scale(1,1.08)" text-anchor="end">19</text><text transform="translate(129.8,550.4) scale(1,1.08)" text-anchor="end">37</text><text transform="translate(129.8,396.7) scale(1,1.08)" text-anchor="end">56</text><text transform="translate(129.8,242.6) scale(1,1.08)" text-anchor="end">75</text><text transform="translate(129.8,90.8) scale(1,1.08)" text-anchor="end">94</text><text transform="translate(146.2,889) scale(1,1.08)" text-anchor="middle">0</text><text transform="translate(398.4,889) scale(1,1.08)" text-anchor="middle">2000</text><text transform="translate(652.0,889) scale(1,1.08)" text-anchor="middle">4000</text><text transform="translate(905.4,889) scale(1,1.08)" text-anchor="middle">6000</text><text transform="translate(1157.4,889) scale(1,1.08)" text-anchor="middle">8000</text></g>
<text x="651.7" y="947.5" font-size="47" text-anchor="middle">Speed (rpm)</text>
<text transform="translate(60.6,428.5) rotate(-90)" font-size="47.8" text-anchor="middle">Torque (Nm)</text>
<rect x="1235.4" y="813.09" width="56.8" height="13.11" fill="#000087"/>
<rect x="1235.4" y="800.58" width="56.8" height="13.11" fill="#000097"/>
<rect x="1235.4" y="788.06" width="56.8" height="13.11" fill="#0000a7"/>
<rect x="1235.4" y="775.55" width="56.8" height="13.11" fill="#0000b7"/>
<rect x="1235.4" y="763.04" width="56.8" height="13.11" fill="#0000c7"/>
<rect x="1235.4" y="750.52" width="56.8" height="13.11" fill="#0000d7"/>
<rect x="1235.4" y="738.01" width="56.8" height="13.11" fill="#0000e7"/>
<rect x="1235.4" y="725.50" width="56.8" height="13.11" fill="#0000f7"/>
<rect x="1235.4" y="712.99" width="56.8" height="13.11" fill="#0008ff"/>
<rect x="1235.4" y="700.48" width="56.8" height="13.11" fill="#0018ff"/>
<rect x="1235.4" y="687.96" width="56.8" height="13.11" fill="#0028ff"/>
<rect x="1235.4" y="675.45" width="56.8" height="13.11" fill="#0038ff"/>
<rect x="1235.4" y="662.94" width="56.8" height="13.11" fill="#0048ff"/>
<rect x="1235.4" y="650.42" width="56.8" height="13.11" fill="#0058ff"/>
<rect x="1235.4" y="637.91" width="56.8" height="13.11" fill="#0068ff"/>
<rect x="1235.4" y="625.40" width="56.8" height="13.11" fill="#0078ff"/>
<rect x="1235.4" y="612.89" width="56.8" height="13.11" fill="#0087ff"/>
<rect x="1235.4" y="600.38" width="56.8" height="13.11" fill="#0097ff"/>
<rect x="1235.4" y="587.86" width="56.8" height="13.11" fill="#00a7ff"/>
<rect x="1235.4" y="575.35" width="56.8" height="13.11" fill="#00b7ff"/>
<rect x="1235.4" y="562.84" width="56.8" height="13.11" fill="#00c7ff"/>
<rect x="1235.4" y="550.33" width="56.8" height="13.11" fill="#00d7ff"/>
<rect x="1235.4" y="537.81" width="56.8" height="13.11" fill="#00e7ff"/>
<rect x="1235.4" y="525.30" width="56.8" height="13.11" fill="#00f7ff"/>
<rect x="1235.4" y="512.79" width="56.8" height="13.11" fill="#08fff7"/>
<rect x="1235.4" y="500.27" width="56.8" height="13.11" fill="#18ffe7"/>
<rect x="1235.4" y="487.76" width="56.8" height="13.11" fill="#28ffd7"/>
<rect x="1235.4" y="475.25" width="56.8" height="13.11" fill="#38ffc7"/>
<rect x="1235.4" y="462.74" width="56.8" height="13.11" fill="#48ffb7"/>
<rect x="1235.4" y="450.22" width="56.8" height="13.11" fill="#58ffa7"/>
<rect x="1235.4" y="437.71" width="56.8" height="13.11" fill="#68ff97"/>
<rect x="1235.4" y="425.20" width="56.8" height="13.11" fill="#78ff87"/>
<rect x="1235.4" y="412.69" width="56.8" height="13.11" fill="#87ff78"/>
<rect x="1235.4" y="400.18" width="56.8" height="13.11" fill="#97ff68"/>
<rect x="1235.4" y="387.66" width="56.8" height="13.11" fill="#a7ff58"/>
<rect x="1235.4" y="375.15" width="56.8" height="13.11" fill="#b7ff48"/>
<rect x="1235.4" y="362.64" width="56.8" height="13.11" fill="#c7ff38"/>
<rect x="1235.4" y="350.12" width="56.8" height="13.11" fill="#d7ff28"/>
<rect x="1235.4" y="337.61" width="56.8" height="13.11" fill="#e7ff18"/>
<rect x="1235.4" y="325.10" width="56.8" height="13.11" fill="#f7ff08"/>
<rect x="1235.4" y="312.59" width="56.8" height="13.11" fill="#fff700"/>
<rect x="1235.4" y="300.07" width="56.8" height="13.11" fill="#ffe700"/>
<rect x="1235.4" y="287.56" width="56.8" height="13.11" fill="#ffd700"/>
<rect x="1235.4" y="275.05" width="56.8" height="13.11" fill="#ffc700"/>
<rect x="1235.4" y="262.54" width="56.8" height="13.11" fill="#ffb700"/>
<rect x="1235.4" y="250.02" width="56.8" height="13.11" fill="#ffa700"/>
<rect x="1235.4" y="237.51" width="56.8" height="13.11" fill="#ff9700"/>
<rect x="1235.4" y="225.00" width="56.8" height="13.11" fill="#ff8700"/>
<rect x="1235.4" y="212.49" width="56.8" height="13.11" fill="#ff7800"/>
<rect x="1235.4" y="199.98" width="56.8" height="13.11" fill="#ff6800"/>
<rect x="1235.4" y="187.46" width="56.8" height="13.11" fill="#ff5800"/>
<rect x="1235.4" y="174.95" width="56.8" height="13.11" fill="#ff4800"/>
<rect x="1235.4" y="162.44" width="56.8" height="13.11" fill="#ff3800"/>
<rect x="1235.4" y="149.92" width="56.8" height="13.11" fill="#ff2800"/>
<rect x="1235.4" y="137.41" width="56.8" height="13.11" fill="#ff1800"/>
<rect x="1235.4" y="124.90" width="56.8" height="13.11" fill="#ff0800"/>
<rect x="1235.4" y="112.39" width="56.8" height="13.11" fill="#f70000"/>
<rect x="1235.4" y="99.88" width="56.8" height="13.11" fill="#e70000"/>
<rect x="1235.4" y="87.36" width="56.8" height="13.11" fill="#d70000"/>
<rect x="1235.4" y="74.85" width="56.8" height="13.11" fill="#c70000"/>
<rect x="1235.4" y="62.34" width="56.8" height="13.11" fill="#b70000"/>
<rect x="1235.4" y="49.82" width="56.8" height="13.11" fill="#a70000"/>
<rect x="1235.4" y="37.31" width="56.8" height="13.11" fill="#970000"/>
<rect x="1235.4" y="24.80" width="56.8" height="13.11" fill="#870000"/>
<g stroke="#333" stroke-width="2"><line x1="1282.2" y1="592.1" x2="1292.2" y2="592.1"/><line x1="1282.2" y1="525.4" x2="1292.2" y2="525.4"/><line x1="1282.2" y1="458.6" x2="1292.2" y2="458.6"/><line x1="1282.2" y1="391.9" x2="1292.2" y2="391.9"/><line x1="1282.2" y1="325.2" x2="1292.2" y2="325.2"/><line x1="1282.2" y1="258.5" x2="1292.2" y2="258.5"/><line x1="1282.2" y1="191.8" x2="1292.2" y2="191.8"/><line x1="1282.2" y1="125.0" x2="1292.2" y2="125.0"/><line x1="1282.2" y1="58.3" x2="1292.2" y2="58.3"/></g>
<rect x="1235.4" y="24.8" width="56.8" height="800.8" fill="none" stroke="#5a5a5a" stroke-width="2.2"/>
<g font-size="43"><text transform="translate(1309,844.2) scale(1,1.08)">50</text><text transform="translate(1309,610.7) scale(1,1.08)">64</text><text transform="translate(1309,544.0) scale(1,1.08)">68</text><text transform="translate(1309,477.2) scale(1,1.08)">72</text><text transform="translate(1309,410.5) scale(1,1.08)">76</text><text transform="translate(1309,343.8) scale(1,1.08)">80</text><text transform="translate(1309,277.1) scale(1,1.08)">84</text><text transform="translate(1309,210.4) scale(1,1.08)">88</text><text transform="translate(1309,143.6) scale(1,1.08)">92</text><text transform="translate(1309,76.9) scale(1,1.08)">96</text></g>
<text transform="translate(1410,425.5) rotate(-90)" font-size="43.2" text-anchor="middle">Efficiency (%)</text>
</svg>
</body></html>
